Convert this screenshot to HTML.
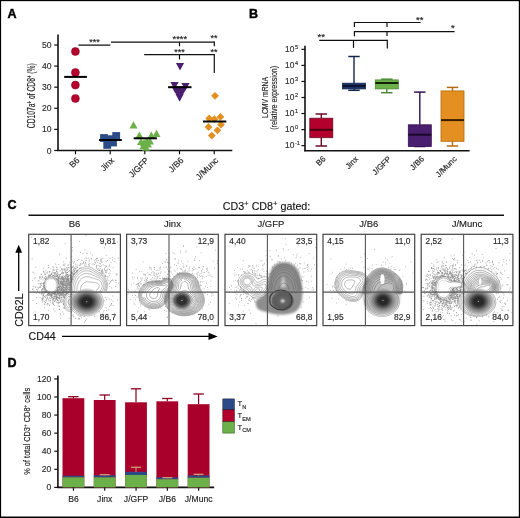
<!DOCTYPE html>
<html><head><meta charset="utf-8"><style>
html,body{margin:0;padding:0;background:#fff;}
svg{display:block;will-change:transform;}
text{font-family:"Liberation Sans",sans-serif;stroke:#222;stroke-width:0.15px;}
text.nb{stroke:none;}
</style></head><body>
<svg width="520" height="518" viewBox="0 0 520 518">
<rect x="0" y="0" width="520" height="518" fill="#fff"/>
<text x="7.60" y="18.30" font-size="12.5" text-anchor="start" fill="#000" font-weight="bold" style="stroke:#000;stroke-width:0.45px">A</text>
<line x1="58.00" y1="34.50" x2="58.00" y2="151.10" stroke="#111" stroke-width="1.6"/>
<line x1="57.20" y1="150.50" x2="232.30" y2="150.50" stroke="#111" stroke-width="1.6"/>
<line x1="54.20" y1="150.50" x2="58.00" y2="150.50" stroke="#111" stroke-width="1.2"/>
<text x="51.60" y="153.50" font-size="8.6" text-anchor="end" fill="#333" font-weight="normal" >0</text>
<line x1="54.20" y1="129.40" x2="58.00" y2="129.40" stroke="#111" stroke-width="1.2"/>
<text x="51.60" y="132.40" font-size="8.6" text-anchor="end" fill="#333" font-weight="normal" >10</text>
<line x1="54.20" y1="108.30" x2="58.00" y2="108.30" stroke="#111" stroke-width="1.2"/>
<text x="51.60" y="111.30" font-size="8.6" text-anchor="end" fill="#333" font-weight="normal" >20</text>
<line x1="54.20" y1="87.20" x2="58.00" y2="87.20" stroke="#111" stroke-width="1.2"/>
<text x="51.60" y="90.20" font-size="8.6" text-anchor="end" fill="#333" font-weight="normal" >30</text>
<line x1="54.20" y1="66.10" x2="58.00" y2="66.10" stroke="#111" stroke-width="1.2"/>
<text x="51.60" y="69.10" font-size="8.6" text-anchor="end" fill="#333" font-weight="normal" >40</text>
<line x1="54.20" y1="45.00" x2="58.00" y2="45.00" stroke="#111" stroke-width="1.2"/>
<text x="51.60" y="48.00" font-size="8.6" text-anchor="end" fill="#333" font-weight="normal" >50</text>
<line x1="75.50" y1="150.50" x2="75.50" y2="154.30" stroke="#111" stroke-width="1.2"/>
<line x1="110.20" y1="150.50" x2="110.20" y2="154.30" stroke="#111" stroke-width="1.2"/>
<line x1="144.80" y1="150.50" x2="144.80" y2="154.30" stroke="#111" stroke-width="1.2"/>
<line x1="179.50" y1="150.50" x2="179.50" y2="154.30" stroke="#111" stroke-width="1.2"/>
<line x1="214.20" y1="150.50" x2="214.20" y2="154.30" stroke="#111" stroke-width="1.2"/>
<text transform="translate(80.10,160.9) rotate(-45)" font-size="8.6" text-anchor="end" fill="#222">B6</text>
<text transform="translate(114.80,160.9) rotate(-45)" font-size="8.6" text-anchor="end" fill="#222">Jinx</text>
<text transform="translate(149.40,160.9) rotate(-45)" font-size="8.6" text-anchor="end" fill="#222">J/GFP</text>
<text transform="translate(184.10,160.9) rotate(-45)" font-size="8.6" text-anchor="end" fill="#222">J/B6</text>
<text transform="translate(218.80,160.9) rotate(-45)" font-size="8.6" text-anchor="end" fill="#222">J/Munc</text>
<text transform="translate(35.1,95.7) rotate(-90)" font-size="10.4" text-anchor="middle" fill="#222" textLength="65" lengthAdjust="spacingAndGlyphs">CD107a<tspan dy="-3.6" font-size="6.5">+</tspan><tspan dy="3.6"> of CD8</tspan><tspan dy="-3.6" font-size="6.5">+</tspan><tspan dy="3.6"> (%)</tspan></text>
<line x1="78.40" y1="45.10" x2="110.30" y2="45.10" stroke="#111" stroke-width="1.2"/>
<text x="94.50" y="44.60" font-size="9" text-anchor="middle" fill="#111" font-weight="normal" >***</text>
<line x1="111.00" y1="42.10" x2="214.30" y2="42.10" stroke="#111" stroke-width="1.2"/>
<line x1="214.30" y1="41.50" x2="214.30" y2="46.30" stroke="#111" stroke-width="1.2"/>
<line x1="179.50" y1="42.10" x2="179.50" y2="46.30" stroke="#111" stroke-width="1.2"/>
<line x1="144.20" y1="54.70" x2="214.30" y2="54.70" stroke="#111" stroke-width="1.2"/>
<line x1="214.30" y1="54.10" x2="214.30" y2="73.00" stroke="#111" stroke-width="1.2"/>
<line x1="179.50" y1="54.70" x2="179.50" y2="59.50" stroke="#111" stroke-width="1.2"/>
<text x="179.80" y="41.70" font-size="9.4" text-anchor="middle" fill="#111" font-weight="normal" >****</text>
<text x="213.90" y="41.20" font-size="9" text-anchor="middle" fill="#111" font-weight="normal" >**</text>
<text x="179.50" y="54.50" font-size="9" text-anchor="middle" fill="#111" font-weight="normal" >***</text>
<text x="213.90" y="54.50" font-size="9" text-anchor="middle" fill="#111" font-weight="normal" >**</text>
<circle cx="75.4" cy="51.5" r="4.0" fill="#b3002d" stroke="#8a0020" stroke-width="0.5"/>
<circle cx="75.4" cy="72.5" r="4.0" fill="#b3002d" stroke="#8a0020" stroke-width="0.5"/>
<circle cx="75.4" cy="85.1" r="4.0" fill="#b3002d" stroke="#8a0020" stroke-width="0.5"/>
<circle cx="75.4" cy="98.5" r="4.0" fill="#b3002d" stroke="#8a0020" stroke-width="0.5"/>
<line x1="64.20" y1="76.90" x2="86.90" y2="76.90" stroke="#000" stroke-width="2.0"/>
<rect x="100.10" y="134.10" width="7.80" height="7.80" fill="#2a4a88" stroke="none" stroke-width="0"/>
<rect x="112.30" y="132.10" width="7.80" height="7.80" fill="#2a4a88" stroke="none" stroke-width="0"/>
<rect x="107.00" y="135.30" width="7.80" height="7.80" fill="#2a4a88" stroke="none" stroke-width="0"/>
<rect x="109.10" y="138.60" width="7.80" height="7.80" fill="#2a4a88" stroke="none" stroke-width="0"/>
<rect x="103.30" y="141.00" width="7.80" height="7.80" fill="#2a4a88" stroke="none" stroke-width="0"/>
<line x1="99.00" y1="140.00" x2="121.80" y2="140.00" stroke="#000" stroke-width="2.0"/>
<path d="M133.50,121.20 L137.50,128.40 L129.50,128.40Z" fill="#6cb04a"/>
<path d="M139.40,131.40 L143.40,138.60 L135.40,138.60Z" fill="#6cb04a"/>
<path d="M156.50,129.70 L160.50,136.90 L152.50,136.90Z" fill="#6cb04a"/>
<path d="M151.30,131.60 L155.30,138.80 L147.30,138.80Z" fill="#6cb04a"/>
<path d="M141.00,137.90 L145.00,145.10 L137.00,145.10Z" fill="#6cb04a"/>
<path d="M146.80,137.20 L150.80,144.40 L142.80,144.40Z" fill="#6cb04a"/>
<path d="M144.00,138.90 L148.00,146.10 L140.00,146.10Z" fill="#6cb04a"/>
<path d="M150.00,137.40 L154.00,144.60 L146.00,144.60Z" fill="#6cb04a"/>
<path d="M143.50,141.90 L147.50,149.10 L139.50,149.10Z" fill="#6cb04a"/>
<path d="M146.00,143.60 L150.00,150.80 L142.00,150.80Z" fill="#6cb04a"/>
<path d="M148.00,140.40 L152.00,147.60 L144.00,147.60Z" fill="#6cb04a"/>
<line x1="133.70" y1="138.30" x2="156.90" y2="138.30" stroke="#000" stroke-width="2.0"/>
<path d="M175.90,63.11 L184.10,63.11 L180.00,70.49Z" fill="#4b1f6f"/>
<path d="M170.40,82.01 L178.60,82.01 L174.50,89.39Z" fill="#4b1f6f"/>
<path d="M181.40,83.11 L189.60,83.11 L185.50,90.49Z" fill="#4b1f6f"/>
<path d="M171.40,86.31 L179.60,86.31 L175.50,93.69Z" fill="#4b1f6f"/>
<path d="M179.40,86.31 L187.60,86.31 L183.50,93.69Z" fill="#4b1f6f"/>
<path d="M175.50,87.31 L183.70,87.31 L179.60,94.69Z" fill="#4b1f6f"/>
<path d="M175.50,90.81 L183.70,90.81 L179.60,98.19Z" fill="#4b1f6f"/>
<path d="M175.50,94.11 L183.70,94.11 L179.60,101.49Z" fill="#4b1f6f"/>
<path d="M172.8,86.6 L186.6,86.6 L179.6,101.6Z" fill="#4b1f6f"/>
<line x1="168.10" y1="87.20" x2="191.50" y2="87.20" stroke="#000" stroke-width="2.0"/>
<path d="M215.00,91.90 L218.90,95.80 L215.00,99.70 L211.10,95.80Z" fill="#e38f22"/>
<path d="M209.20,114.60 L213.10,118.50 L209.20,122.40 L205.30,118.50Z" fill="#e38f22"/>
<path d="M220.40,113.00 L224.30,116.90 L220.40,120.80 L216.50,116.90Z" fill="#e38f22"/>
<path d="M214.40,115.30 L218.30,119.20 L214.40,123.10 L210.50,119.20Z" fill="#e38f22"/>
<path d="M221.00,120.80 L224.90,124.70 L221.00,128.60 L217.10,124.70Z" fill="#e38f22"/>
<path d="M208.50,123.10 L212.40,127.00 L208.50,130.90 L204.60,127.00Z" fill="#e38f22"/>
<path d="M217.40,126.40 L221.30,130.30 L217.40,134.20 L213.50,130.30Z" fill="#e38f22"/>
<path d="M211.80,131.70 L215.70,135.60 L211.80,139.50 L207.90,135.60Z" fill="#e38f22"/>
<line x1="203.00" y1="121.50" x2="226.30" y2="121.50" stroke="#000" stroke-width="2.0"/>
<text x="249.00" y="18.20" font-size="12.5" text-anchor="start" fill="#000" font-weight="bold" style="stroke:#000;stroke-width:0.45px">B</text>
<line x1="305.00" y1="45.80" x2="305.00" y2="151.30" stroke="#111" stroke-width="1.6"/>
<line x1="304.20" y1="150.70" x2="469.60" y2="150.70" stroke="#111" stroke-width="1.6"/>
<line x1="301.40" y1="145.65" x2="305.00" y2="145.65" stroke="#111" stroke-width="1.2"/>
<text x="294.4" y="148.45" font-size="8.4" text-anchor="end" fill="#333">10</text>
<text x="294.9" y="145.05" font-size="5.6" fill="#333">-1</text>
<line x1="301.40" y1="129.60" x2="305.00" y2="129.60" stroke="#111" stroke-width="1.2"/>
<text x="294.4" y="132.40" font-size="8.4" text-anchor="end" fill="#333">10</text>
<text x="294.9" y="129.00" font-size="5.6" fill="#333">0</text>
<line x1="301.40" y1="113.55" x2="305.00" y2="113.55" stroke="#111" stroke-width="1.2"/>
<text x="294.4" y="116.35" font-size="8.4" text-anchor="end" fill="#333">10</text>
<text x="294.9" y="112.95" font-size="5.6" fill="#333">1</text>
<line x1="301.40" y1="97.50" x2="305.00" y2="97.50" stroke="#111" stroke-width="1.2"/>
<text x="294.4" y="100.30" font-size="8.4" text-anchor="end" fill="#333">10</text>
<text x="294.9" y="96.90" font-size="5.6" fill="#333">2</text>
<line x1="301.40" y1="81.45" x2="305.00" y2="81.45" stroke="#111" stroke-width="1.2"/>
<text x="294.4" y="84.25" font-size="8.4" text-anchor="end" fill="#333">10</text>
<text x="294.9" y="80.85" font-size="5.6" fill="#333">3</text>
<line x1="301.40" y1="65.40" x2="305.00" y2="65.40" stroke="#111" stroke-width="1.2"/>
<text x="294.4" y="68.20" font-size="8.4" text-anchor="end" fill="#333">10</text>
<text x="294.9" y="64.80" font-size="5.6" fill="#333">4</text>
<line x1="301.40" y1="49.35" x2="305.00" y2="49.35" stroke="#111" stroke-width="1.2"/>
<text x="294.4" y="52.15" font-size="8.4" text-anchor="end" fill="#333">10</text>
<text x="294.9" y="48.75" font-size="5.6" fill="#333">5</text>
<text transform="translate(267.6,97.4) rotate(-90)" font-size="9.4" text-anchor="middle" fill="#222" textLength="41" lengthAdjust="spacingAndGlyphs">LCMV mRNA</text>
<text transform="translate(277.4,97.8) rotate(-90)" font-size="9.4" text-anchor="middle" fill="#222" textLength="64" lengthAdjust="spacingAndGlyphs">(relative expression)</text>
<line x1="321.30" y1="114.00" x2="321.30" y2="118.20" stroke="#6a0a25" stroke-width="1.4"/>
<line x1="321.30" y1="137.70" x2="321.30" y2="146.00" stroke="#6a0a25" stroke-width="1.4"/>
<line x1="315.60" y1="114.00" x2="327.00" y2="114.00" stroke="#6a0a25" stroke-width="1.5"/>
<line x1="315.60" y1="146.00" x2="327.00" y2="146.00" stroke="#6a0a25" stroke-width="1.5"/>
<rect x="309.80" y="118.20" width="23.00" height="19.50" fill="#b3002d" stroke="#6a0a25" stroke-width="0.8"/>
<line x1="309.80" y1="129.80" x2="332.80" y2="129.80" stroke="#4a0010" stroke-width="2.0"/>
<line x1="354.00" y1="56.50" x2="354.00" y2="83.20" stroke="#13254d" stroke-width="1.4"/>
<line x1="354.00" y1="88.90" x2="354.00" y2="90.30" stroke="#13254d" stroke-width="1.4"/>
<line x1="348.30" y1="56.50" x2="359.70" y2="56.50" stroke="#13254d" stroke-width="1.5"/>
<line x1="348.30" y1="90.30" x2="359.70" y2="90.30" stroke="#13254d" stroke-width="1.5"/>
<rect x="342.50" y="83.20" width="23.00" height="5.70" fill="#1d3266" stroke="#13254d" stroke-width="0.8"/>
<line x1="342.50" y1="86.00" x2="365.50" y2="86.00" stroke="#0b1430" stroke-width="2.0"/>
<line x1="386.80" y1="79.20" x2="386.80" y2="79.90" stroke="#4e8a33" stroke-width="1.4"/>
<line x1="386.80" y1="88.90" x2="386.80" y2="92.70" stroke="#4e8a33" stroke-width="1.4"/>
<line x1="381.10" y1="79.20" x2="392.50" y2="79.20" stroke="#4e8a33" stroke-width="1.5"/>
<line x1="381.10" y1="92.70" x2="392.50" y2="92.70" stroke="#4e8a33" stroke-width="1.5"/>
<rect x="375.30" y="79.90" width="23.00" height="9.00" fill="#6cb04a" stroke="#4e8a33" stroke-width="0.8"/>
<line x1="375.30" y1="83.00" x2="398.30" y2="83.00" stroke="#10200a" stroke-width="2.0"/>
<line x1="419.80" y1="92.10" x2="419.80" y2="124.80" stroke="#351150" stroke-width="1.4"/>
<line x1="419.80" y1="146.50" x2="419.80" y2="146.50" stroke="#351150" stroke-width="1.4"/>
<line x1="414.10" y1="92.10" x2="425.50" y2="92.10" stroke="#351150" stroke-width="1.5"/>
<line x1="414.10" y1="146.50" x2="425.50" y2="146.50" stroke="#351150" stroke-width="1.5"/>
<rect x="408.30" y="124.80" width="23.00" height="21.70" fill="#4b1f6f" stroke="#351150" stroke-width="0.8"/>
<line x1="408.30" y1="134.70" x2="431.30" y2="134.70" stroke="#1a0828" stroke-width="2.0"/>
<line x1="452.50" y1="87.40" x2="452.50" y2="90.90" stroke="#b56c10" stroke-width="1.4"/>
<line x1="452.50" y1="141.30" x2="452.50" y2="146.00" stroke="#b56c10" stroke-width="1.4"/>
<line x1="446.80" y1="87.40" x2="458.20" y2="87.40" stroke="#b56c10" stroke-width="1.5"/>
<line x1="446.80" y1="146.00" x2="458.20" y2="146.00" stroke="#b56c10" stroke-width="1.5"/>
<rect x="441.00" y="90.90" width="23.00" height="50.40" fill="#e38f22" stroke="#b56c10" stroke-width="0.8"/>
<line x1="441.00" y1="120.10" x2="464.00" y2="120.10" stroke="#3a1c00" stroke-width="2.0"/>
<text transform="translate(326.10,159.4) rotate(-45)" font-size="8" text-anchor="end" fill="#222">B6</text>
<text transform="translate(358.80,159.4) rotate(-45)" font-size="8" text-anchor="end" fill="#222">Jinx</text>
<text transform="translate(391.60,159.4) rotate(-45)" font-size="8" text-anchor="end" fill="#222">J/GFP</text>
<text transform="translate(424.60,159.4) rotate(-45)" font-size="8" text-anchor="end" fill="#222">J/B6</text>
<text transform="translate(457.30,159.4) rotate(-45)" font-size="8" text-anchor="end" fill="#222">J/Munc</text>
<line x1="319.20" y1="40.40" x2="387.30" y2="40.40" stroke="#111" stroke-width="1.2"/>
<line x1="387.30" y1="39.80" x2="387.30" y2="48.40" stroke="#111" stroke-width="1.2"/>
<line x1="353.50" y1="40.40" x2="353.50" y2="47.90" stroke="#111" stroke-width="1.2"/>
<text x="321.20" y="40.30" font-size="9.5" text-anchor="middle" fill="#111" font-weight="normal" >**</text>
<line x1="354.40" y1="31.70" x2="454.60" y2="31.70" stroke="#111" stroke-width="1.2"/>
<line x1="354.40" y1="31.10" x2="354.40" y2="36.30" stroke="#111" stroke-width="1.2"/>
<line x1="387.00" y1="31.70" x2="387.00" y2="36.00" stroke="#111" stroke-width="1.2"/>
<text x="452.90" y="31.40" font-size="9.5" text-anchor="middle" fill="#111" font-weight="normal" >*</text>
<line x1="354.40" y1="22.50" x2="420.60" y2="22.50" stroke="#111" stroke-width="1.2"/>
<line x1="354.40" y1="21.90" x2="354.40" y2="27.10" stroke="#111" stroke-width="1.2"/>
<line x1="387.00" y1="22.50" x2="387.00" y2="27.00" stroke="#111" stroke-width="1.2"/>
<text x="419.80" y="23.10" font-size="9.5" text-anchor="middle" fill="#111" font-weight="normal" >**</text>
<text x="7.60" y="208.50" font-size="12.5" text-anchor="start" fill="#000" font-weight="bold" style="stroke:#000;stroke-width:0.45px">C</text>
<text x="266.5" y="210.0" font-size="10.7" text-anchor="middle" fill="#111">CD3<tspan dy="-3.8" font-size="7.8">+</tspan><tspan dy="3.8"> CD8</tspan><tspan dy="-3.8" font-size="7.8">+</tspan><tspan dy="3.8"> gated:</tspan></text>
<line x1="28.50" y1="215.20" x2="504.00" y2="215.20" stroke="#111" stroke-width="1.4"/>
<text x="74.55" y="227.10" font-size="9.5" text-anchor="middle" fill="#222" font-weight="normal" >B6</text>
<path d="M58.6 293.9h0.8M58.5 276.9h0.8M63.4 290.9h0.8M58.8 289.7h0.8M55.9 291.7h0.8M32.7 272.2h0.8M57.5 289.0h0.8M52.5 303.6h0.8M61.2 292.6h0.8M51.3 274.1h0.8M60.7 294.4h0.8M58.4 280.8h0.8M61.9 283.3h0.8M63.2 278.7h0.8M63.5 287.1h0.8M57.7 293.4h0.8M41.7 289.3h0.8M66.1 284.9h0.8M48.8 293.3h0.8M57.9 294.5h0.8M52.8 275.4h0.8M62.3 288.8h0.8M41.8 277.7h0.8M63.2 292.7h0.8M59.5 291.0h0.8M63.1 289.4h0.8M64.7 269.3h0.8M43.6 290.0h0.8M50.2 294.2h0.8M54.6 292.7h0.8M66.1 290.4h0.8M48.3 275.2h0.8M54.1 294.1h0.8M46.9 292.6h0.8M68.7 275.1h0.8M34.7 292.2h0.8M45.1 292.0h0.8M55.8 278.3h0.8M46.4 299.0h0.8M60.0 283.9h0.8M58.1 278.0h0.8M62.8 282.6h0.8M52.4 300.3h0.8M37.5 287.3h0.8M63.3 285.4h0.8M61.7 292.6h0.8M41.5 293.9h0.8M61.1 297.8h0.8M59.9 288.6h0.8M47.8 310.3h0.8M63.2 278.2h0.8M42.5 288.6h0.8M51.8 297.1h0.8M63.9 265.6h0.8M56.1 274.4h0.8M65.1 288.6h0.8M60.4 278.8h0.8M44.9 302.2h0.8M60.0 282.1h0.8M54.6 277.9h0.8M53.2 293.3h0.8M45.0 291.5h0.8M58.8 290.5h0.8M52.3 271.1h0.8M59.3 289.4h0.8M43.7 293.5h0.8M57.4 274.5h0.8M42.6 292.3h0.8M57.8 281.3h0.8M61.5 283.5h0.8M59.5 285.5h0.8M40.7 279.1h0.8M56.0 276.4h0.8M63.3 280.0h0.8M34.8 312.1h0.8M63.0 287.0h0.8M40.6 292.3h0.8M63.0 283.7h0.8M43.9 285.5h0.8M48.3 295.3h0.8M56.9 293.6h0.8M67.9 287.3h0.8M58.5 294.9h0.8M53.1 298.8h0.8M43.8 287.0h0.8M41.5 298.4h0.8M51.3 294.8h0.8M65.4 287.4h0.8M59.7 276.6h0.8M61.1 287.1h0.8M59.8 300.1h0.8M36.3 289.4h0.8M46.4 292.0h0.8M57.4 292.2h0.8M51.0 294.4h0.8M55.7 273.8h0.8M62.9 290.6h0.8M63.1 284.6h0.8M62.7 278.8h0.8M60.5 283.4h0.8M61.4 295.3h0.8M56.0 296.8h0.8M61.7 277.5h0.8M59.6 293.3h0.8M73.8 273.9h0.8M51.1 298.0h0.8M44.2 277.7h0.8M60.1 295.4h0.8M56.7 299.4h0.8M55.7 295.2h0.8M54.9 296.4h0.8M60.6 281.3h0.8M61.5 293.5h0.8M54.1 273.7h0.8M57.3 289.2h0.8M48.3 293.2h0.8M51.7 303.2h0.8M42.1 291.8h0.8M63.7 290.3h0.8M65.7 279.3h0.8M36.3 293.4h0.8M45.7 295.7h0.8M63.1 281.5h0.8M63.4 288.3h0.8M58.3 284.5h0.8M64.3 282.4h0.8M58.1 290.7h0.8M68.3 283.3h0.8M60.7 287.7h0.8M46.3 278.3h0.8M63.1 290.2h0.8M63.2 304.3h0.8M63.5 285.1h0.8M57.4 302.0h0.8M56.1 298.2h0.8M59.4 280.2h0.8M55.6 275.1h0.8M57.9 292.3h0.8M57.1 289.6h0.8M60.7 282.0h0.8M64.2 290.5h0.8M64.2 297.4h0.8M65.1 289.5h0.8M60.5 270.2h0.8M44.1 304.7h0.8M43.9 278.7h0.8M45.5 296.2h0.8M48.2 292.6h0.8M60.7 289.4h0.8M69.9 277.0h0.8M62.6 289.3h0.8M62.0 278.8h0.8M63.7 291.9h0.8M42.1 299.6h0.8M56.2 298.5h0.8M43.1 271.4h0.8M58.0 277.3h0.8M60.5 302.3h0.8M55.9 295.2h0.8M47.5 293.3h0.8M55.0 296.3h0.8M59.7 278.6h0.8M56.8 297.0h0.8M49.2 275.3h0.8M63.9 297.8h0.8M62.5 289.2h0.8M49.5 294.5h0.8M64.6 294.8h0.8M54.3 301.6h0.8M57.2 272.2h0.8M59.1 302.4h0.8M61.5 294.3h0.8M56.0 271.5h0.8M40.3 277.3h0.8M61.6 284.6h0.8M63.8 285.1h0.8M49.7 294.1h0.8M47.9 265.5h0.8M52.9 275.9h0.8M43.1 283.6h0.8M51.0 297.4h0.8M58.9 274.7h0.8M48.4 292.9h0.8M58.3 302.2h0.8M43.7 283.2h0.8M55.8 276.0h0.8M56.8 294.4h0.8M53.6 293.1h0.8M61.8 290.9h0.8M52.9 309.1h0.8M52.9 300.8h0.8M39.7 283.7h0.8M63.8 280.0h0.8M61.3 288.4h0.8M59.1 292.1h0.8M56.0 296.2h0.8M49.5 275.8h0.8M40.6 274.3h0.8M51.0 295.5h0.8M43.5 283.5h0.8M64.3 269.9h0.8M53.7 270.3h0.8M38.0 288.1h0.8M65.6 286.7h0.8M37.4 291.2h0.8M52.1 275.6h0.8M62.4 289.6h0.8M51.2 294.2h0.8M46.3 299.2h0.8M57.9 298.8h0.8M62.8 265.4h0.8M46.6 295.6h0.8M59.7 295.1h0.8M49.5 276.3h0.8M41.3 282.9h0.8M36.1 303.5h0.8M46.3 300.8h0.8M69.0 289.5h0.8M55.7 291.6h0.8M52.4 295.6h0.8M64.0 294.7h0.8M66.5 287.1h0.8M58.0 282.7h0.8M45.9 290.9h0.8M58.0 278.4h0.8M60.7 273.4h0.8M63.8 291.8h0.8M65.8 288.3h0.8M45.6 290.9h0.8M65.9 289.8h0.8M57.3 275.6h0.8M57.0 280.6h0.8M48.6 293.4h0.8M57.4 300.6h0.8M47.1 272.9h0.8M63.5 294.8h0.8M49.2 275.4h0.8M55.1 273.1h0.8M52.6 269.6h0.8M53.4 270.1h0.8M53.4 299.2h0.8M53.1 293.2h0.8M42.7 295.3h0.8M54.9 300.0h0.8M56.0 298.2h0.8M70.8 281.7h0.8M45.7 273.0h0.8M66.7 286.2h0.8M33.5 273.1h0.8M63.2 290.1h0.8M56.5 278.9h0.8M60.3 301.1h0.8M54.7 292.1h0.8M64.4 285.1h0.8M53.0 293.8h0.8M57.6 287.6h0.8M57.1 277.0h0.8M59.2 297.5h0.8M60.2 274.5h0.8M57.7 279.7h0.8M45.2 297.6h0.8M54.8 293.3h0.8M60.7 297.7h0.8M65.5 275.2h0.8M55.7 269.9h0.8M63.2 297.3h0.8M56.2 297.2h0.8M68.9 284.2h0.8M61.9 291.4h0.8M49.9 298.9h0.8M55.9 299.4h0.8M67.3 276.9h0.8M57.6 287.6h0.8M57.8 280.6h0.8M59.2 298.4h0.8M53.9 301.3h0.8M49.1 305.1h0.8M58.6 282.6h0.8M56.1 270.0h0.8M61.9 278.7h0.8M46.0 292.1h0.8M48.3 293.9h0.8M65.1 272.9h0.8M54.4 274.6h0.8M55.1 294.5h0.8M44.0 301.6h0.8M54.5 293.5h0.8M43.9 287.2h0.8M43.9 296.8h0.8M64.3 276.8h0.8M52.2 301.9h0.8M54.5 298.0h0.8M48.9 275.3h0.8M56.5 290.3h0.8M61.9 272.7h0.8M62.4 287.0h0.8M43.4 287.9h0.8M62.4 291.3h0.8M61.7 294.7h0.8M63.1 286.8h0.8M37.8 281.1h0.8M58.5 283.4h0.8M61.3 293.5h0.8M55.9 302.2h0.8M47.2 294.6h0.8M60.5 282.2h0.8M62.8 277.8h0.8M45.9 292.4h0.8M45.0 279.3h0.8M63.1 294.9h0.8M61.2 289.9h0.8M63.2 289.5h0.8M65.0 294.9h0.8M47.1 304.9h0.8M63.8 291.9h0.8M35.1 286.7h0.8M57.4 294.0h0.8M55.5 293.6h0.8M33.8 278.4h0.8M70.2 277.4h0.8M48.1 293.0h0.8M43.4 271.9h0.8M44.3 274.0h0.8M58.4 278.9h0.8M56.3 294.5h0.8M61.2 294.7h0.8M59.7 293.1h0.8M67.7 276.4h0.8M53.0 267.9h0.8M54.8 264.1h0.8M58.1 291.5h0.8M60.7 277.6h0.8M63.7 280.3h0.8M45.2 279.4h0.8M62.6 270.4h0.8M51.0 294.5h0.8M57.4 291.3h0.8M42.9 294.9h0.8M42.4 288.8h0.8M60.0 294.3h0.8M65.6 287.3h0.8M54.6 276.0h0.8M57.0 292.5h0.8M69.1 288.7h0.8M67.3 282.4h0.8M71.0 279.9h0.8M52.7 294.0h0.8M41.1 285.3h0.8M62.0 282.8h0.8M61.9 285.5h0.8M68.6 280.0h0.8M66.6 280.4h0.8M52.3 297.7h0.8M59.5 288.1h0.8M63.8 282.9h0.8M58.9 292.4h0.8M58.1 287.1h0.8M49.8 294.5h0.8M56.9 291.3h0.8M62.2 288.0h0.8M63.0 289.8h0.8M67.3 285.8h0.8M41.8 290.8h0.8M61.2 289.4h0.8M59.5 284.6h0.8M57.4 289.3h0.8M70.8 281.8h0.8M41.0 274.5h0.8M74.1 273.2h0.8M60.6 280.5h0.8M49.2 271.4h0.8M48.0 293.6h0.8M43.9 292.1h0.8M58.4 303.4h0.8M51.7 297.4h0.8M63.3 285.0h0.8M41.6 299.4h0.8M63.2 296.2h0.8M53.5 296.8h0.8M63.5 264.4h0.8M55.8 278.4h0.8M45.3 274.3h0.8M49.3 295.7h0.8M56.9 276.0h0.8M46.0 291.4h0.8M58.4 282.6h0.8M60.8 287.8h0.8M61.2 302.3h0.8M53.5 293.9h0.8M59.5 299.1h0.8M60.1 282.9h0.8M59.1 306.5h0.8M69.9 277.9h0.8M58.7 276.7h0.8M41.6 293.2h0.8M60.4 279.0h0.8M69.7 279.5h0.8M45.8 292.5h0.8M39.6 276.6h0.8M60.9 281.7h0.8M60.3 297.2h0.8M62.1 286.4h0.8M59.8 291.0h0.8M54.2 294.1h0.8M50.6 296.2h0.8M57.2 297.3h0.8M61.8 284.9h0.8M70.5 278.8h0.8M44.6 291.8h0.8M43.3 268.3h0.8M63.2 293.4h0.8M61.9 283.4h0.8M57.3 279.6h0.8M62.0 271.7h0.8M62.6 299.3h0.8M66.0 293.6h0.8M60.8 290.4h0.8M70.0 278.0h0.8M66.3 293.3h0.8M43.8 303.9h0.8M60.1 286.4h0.8M59.3 289.8h0.8M52.6 266.7h0.8M60.2 286.1h0.8M59.6 295.5h0.8M51.7 299.0h0.8M39.1 277.2h0.8M48.0 267.7h0.8M47.2 297.3h0.8M66.3 288.1h0.8M54.5 293.2h0.8M42.9 295.3h0.8M51.8 294.1h0.8M42.6 283.9h0.8M56.4 294.5h0.8M45.4 300.6h0.8M59.8 283.1h0.8M66.0 288.1h0.8M62.2 283.1h0.8M58.1 280.6h0.8M75.6 266.3h0.8M61.9 285.6h0.8M62.3 294.2h0.8M56.1 279.2h0.8M43.8 272.3h0.8M66.1 285.6h0.8M44.3 289.7h0.8M42.4 298.2h0.8M49.2 272.0h0.8M45.2 279.6h0.8M55.6 279.0h0.8M42.9 285.2h0.8M59.6 287.9h0.8M65.0 277.0h0.8M39.6 297.7h0.8M59.0 294.1h0.8M46.7 292.0h0.8M55.3 291.7h0.8M60.3 300.8h0.8M57.5 293.3h0.8M45.5 278.7h0.8M61.6 276.6h0.8M56.3 267.6h0.8M53.5 273.0h0.8M56.6 295.1h0.8M61.2 282.0h0.8M61.1 298.8h0.8M51.2 273.7h0.8M57.4 293.0h0.8M32.6 288.4h0.8M60.4 290.5h0.8M64.7 279.8h0.8M39.4 293.4h0.8M62.9 287.6h0.8M57.1 300.3h0.8M50.2 275.7h0.8M42.5 297.0h0.8M62.1 291.8h0.8M46.5 277.3h0.8M67.6 280.0h0.8M38.5 280.6h0.8M59.0 297.4h0.8M67.2 278.0h0.8M65.9 285.9h0.8M60.7 293.0h0.8M51.8 293.5h0.8M64.8 286.0h0.8M42.6 279.8h0.8M58.5 277.8h0.8M50.2 300.4h0.8M65.3 281.8h0.8M60.8 282.1h0.8M69.5 282.6h0.8M56.4 298.4h0.8M48.7 297.7h0.8M47.1 294.2h0.8M61.8 297.6h0.8M67.5 276.5h0.8M51.2 295.6h0.8M68.2 283.0h0.8M56.5 266.8h0.8M58.8 298.6h0.8M65.0 277.2h0.8M45.1 276.2h0.8M62.8 291.3h0.8M66.3 278.9h0.8M44.2 307.7h0.8M63.7 281.6h0.8M55.2 292.7h0.8M34.9 287.5h0.8M57.9 291.1h0.8M57.5 273.1h0.8M37.0 291.1h0.8M47.6 295.3h0.8M61.4 278.2h0.8M61.3 283.0h0.8M63.5 294.2h0.8M45.5 304.0h0.8M65.6 280.8h0.8M41.6 283.7h0.8M66.7 279.2h0.8M58.7 283.2h0.8M58.3 300.7h0.8M51.2 274.5h0.8M44.9 274.7h0.8M65.5 292.9h0.8M59.6 283.9h0.8M58.9 286.4h0.8M39.3 278.4h0.8M48.7 300.9h0.8M68.1 290.0h0.8M65.3 291.9h0.8M62.3 293.0h0.8M57.0 292.9h0.8M66.3 267.9h0.8M46.9 294.1h0.8M41.8 276.7h0.8M45.3 270.7h0.8M43.4 282.6h0.8M51.6 294.9h0.8M54.7 276.9h0.8M51.5 272.4h0.8M57.7 293.5h0.8M39.6 286.9h0.8M58.2 297.3h0.8M65.9 282.5h0.8M55.3 299.8h0.8M56.8 276.3h0.8M54.1 296.6h0.8M66.6 282.1h0.8M54.2 293.6h0.8M71.3 280.3h0.8M61.7 291.0h0.8M41.1 292.7h0.8M54.5 301.0h0.8M61.1 278.4h0.8M44.0 296.5h0.8M48.3 292.8h0.8M53.1 304.1h0.8M56.4 299.4h0.8M67.0 283.6h0.8M52.9 299.2h0.8M55.5 298.6h0.8M54.5 298.3h0.8M53.9 298.2h0.8M60.6 286.1h0.8M58.0 283.3h0.8M59.9 292.0h0.8M60.2 283.8h0.8M67.5 281.4h0.8M50.9 296.0h0.8M50.9 295.2h0.8M40.9 294.1h0.8M60.4 292.2h0.8M42.5 293.9h0.8M47.0 298.2h0.8M53.0 275.6h0.8M65.2 294.8h0.8M53.0 298.7h0.8M62.1 277.5h0.8M61.2 287.2h0.8M55.4 272.5h0.8M57.6 279.6h0.8M57.1 276.0h0.8M64.1 289.7h0.8M44.7 289.7h0.8M49.8 302.2h0.8M60.4 281.4h0.8M58.1 287.5h0.8M66.4 290.7h0.8M60.6 278.9h0.8M63.0 304.6h0.8M61.7 287.5h0.8M57.7 280.2h0.8M57.9 279.1h0.8M43.6 287.5h0.8M45.0 302.5h0.8M60.9 284.4h0.8M62.5 286.8h0.8M43.0 286.1h0.8M46.9 297.4h0.8M61.8 292.6h0.8M70.0 278.4h0.8M59.2 288.0h0.8M32.7 300.5h0.8M51.7 276.3h0.8M60.8 276.5h0.8M59.4 284.5h0.8M61.1 294.0h0.8M67.1 283.7h0.8M44.0 292.4h0.8M57.1 276.9h0.8M44.8 292.2h0.8M47.7 276.4h0.8M60.5 283.1h0.8M54.6 311.3h0.8M54.9 293.4h0.8M58.4 289.3h0.8M55.5 294.0h0.8M62.4 279.3h0.8M56.9 299.9h0.8M66.4 285.2h0.8M67.0 288.8h0.8M55.7 275.8h0.8M66.2 291.8h0.8M59.3 286.5h0.8M63.9 289.6h0.8M56.5 290.7h0.8M61.3 290.8h0.8M62.8 289.8h0.8M45.1 278.3h0.8M42.2 302.0h0.8M42.8 286.4h0.8M67.2 283.6h0.8M62.3 311.9h0.8M59.2 298.7h0.8M48.3 276.2h0.8M65.5 289.9h0.8M53.0 272.7h0.8M67.3 277.3h0.8M43.7 291.8h0.8M59.8 275.2h0.8M57.7 287.6h0.8M48.4 293.9h0.8M64.2 278.6h0.8M60.5 286.2h0.8M56.4 271.5h0.8M44.0 288.9h0.8M58.2 282.6h0.8M54.4 292.8h0.8M64.8 281.3h0.8M58.7 295.7h0.8M47.0 303.5h0.8M57.3 292.4h0.8M52.5 276.9h0.8M69.6 286.7h0.8M66.4 293.5h0.8M65.7 293.9h0.8M57.0 289.3h0.8M49.4 271.8h0.8M65.7 282.9h0.8M73.2 273.7h0.8M57.4 302.6h0.8M64.2 297.1h0.8M59.3 286.1h0.8M49.9 275.2h0.8M62.2 273.8h0.8M44.1 289.1h0.8M57.0 273.6h0.8M64.5 293.6h0.8M57.5 278.2h0.8M49.2 294.6h0.8M49.7 295.5h0.8M66.5 278.8h0.8M59.4 286.4h0.8M58.3 280.0h0.8M39.9 284.4h0.8M54.2 275.8h0.8M44.7 290.2h0.8M64.8 285.0h0.8M64.8 272.3h0.8M57.0 290.5h0.8M63.8 290.5h0.8M42.7 288.8h0.8M57.3 291.4h0.8M68.7 288.8h0.8M43.3 293.7h0.8M66.2 283.7h0.8M39.3 292.6h0.8M32.9 291.0h0.8M32.3 280.4h0.8M63.2 272.7h0.8M39.9 283.7h0.8M50.5 295.3h0.8M60.6 289.4h0.8M58.7 281.5h0.8M62.5 295.8h0.8M34.8 277.6h0.8M58.5 287.8h0.8M39.9 286.1h0.8M54.6 294.6h0.8M68.1 292.7h0.8M47.8 294.9h0.8M62.9 294.9h0.8M56.5 290.7h0.8M62.1 301.9h0.8M68.9 292.3h0.8M53.4 296.5h0.8M32.2 289.4h0.8M38.8 287.3h0.8M67.0 280.0h0.8M36.3 297.7h0.8M68.5 291.3h0.8M66.4 280.9h0.8M61.1 289.5h0.8M49.3 298.2h0.8M62.0 288.6h0.8M62.0 283.2h0.8M62.8 278.4h0.8M54.6 273.8h0.8M41.2 290.8h0.8M60.7 290.1h0.8M57.7 303.8h0.8M43.3 300.0h0.8M43.0 291.7h0.8M57.0 293.2h0.8M58.2 286.2h0.8M65.7 274.9h0.8M51.7 274.1h0.8M50.2 300.7h0.8M57.3 290.4h0.8M48.2 299.6h0.8M41.2 289.7h0.8M42.4 277.4h0.8M64.0 281.8h0.8M63.2 292.7h0.8M60.6 293.4h0.8M61.5 277.2h0.8M69.8 282.8h0.8M58.8 281.4h0.8M65.8 274.2h0.8M59.5 289.2h0.8M59.4 279.1h0.8M64.5 295.0h0.8M57.1 289.8h0.8M59.2 276.0h0.8M33.4 286.4h0.8M54.3 297.0h0.8M54.7 295.8h0.8M56.5 278.9h0.8M58.5 278.5h0.8M42.3 291.3h0.8M51.0 296.2h0.8M58.3 280.8h0.8M57.6 297.7h0.8M45.7 277.0h0.8M59.3 296.2h0.8M52.6 293.6h0.8M63.4 300.8h0.8M59.3 288.1h0.8M58.3 297.7h0.8M58.9 293.7h0.8M43.0 295.3h0.8M36.8 289.3h0.8M61.7 282.1h0.8M63.3 261.9h0.8M47.4 271.8h0.8M57.3 297.7h0.8M65.8 292.6h0.8M57.8 281.2h0.8M66.1 292.3h0.8M48.5 277.1h0.8M50.4 296.0h0.8M67.5 289.1h0.8M62.2 276.7h0.8M41.8 300.3h0.8M57.0 275.7h0.8M64.9 287.9h0.8M61.9 285.8h0.8M58.7 293.6h0.8M60.0 292.6h0.8M66.1 289.7h0.8M64.4 296.3h0.8M58.4 286.9h0.8M42.7 298.1h0.8M56.5 295.7h0.8M53.8 293.3h0.8M66.2 286.8h0.8M52.6 302.8h0.8M53.7 277.3h0.8M57.5 306.2h0.8M61.7 295.7h0.8M38.1 283.7h0.8M66.9 285.0h0.8M67.9 292.1h0.8M60.1 301.7h0.8M57.7 290.1h0.8M42.4 298.2h0.8M58.8 287.0h0.8M62.1 285.2h0.8M67.1 288.9h0.8M63.0 281.3h0.8M56.4 297.3h0.8M63.3 295.6h0.8M59.4 295.5h0.8M69.9 289.7h0.8M60.5 293.0h0.8M39.8 287.5h0.8M60.3 294.3h0.8M54.0 296.1h0.8M71.0 277.4h0.8M62.1 279.6h0.8M45.3 291.9h0.8M46.4 291.1h0.8M60.2 282.9h0.8M54.6 276.5h0.8M54.0 272.6h0.8M68.3 292.4h0.8M70.4 275.6h0.8M56.8 293.6h0.8M70.9 269.0h0.8M72.1 291.9h0.8M65.5 290.9h0.8M60.3 282.8h0.8M69.1 290.8h0.8M71.6 279.3h0.8M67.6 289.2h0.8M64.9 275.7h0.8M70.1 280.2h0.8M61.9 283.7h0.8M69.9 285.3h0.8M62.8 279.9h0.8M70.5 280.4h0.8M59.1 286.9h0.8M61.8 284.2h0.8M64.4 271.0h0.8M65.1 285.1h0.8M67.0 292.1h0.8M70.9 281.5h0.8M71.0 278.1h0.8M70.8 272.6h0.8M71.0 276.9h0.8M69.6 282.1h0.8M69.9 287.2h0.8M68.4 283.9h0.8M61.3 269.1h0.8M61.3 299.6h0.8M65.1 288.4h0.8M71.7 273.3h0.8M68.5 282.3h0.8M69.1 282.1h0.8M65.5 278.5h0.8M68.2 287.7h0.8M71.4 280.0h0.8M63.3 281.9h0.8M61.7 284.4h0.8M68.0 278.6h0.8M62.0 283.7h0.8M71.2 281.1h0.8M69.5 289.8h0.8M71.8 279.3h0.8M59.3 278.1h0.8M63.2 297.1h0.8M66.0 287.6h0.8M66.8 293.4h0.8M67.2 272.5h0.8M71.3 276.2h0.8M68.2 284.2h0.8M64.8 291.4h0.8M61.6 296.2h0.8M65.8 292.0h0.8M65.0 291.8h0.8M69.6 285.0h0.8M59.6 271.2h0.8M65.2 277.4h0.8M69.7 288.0h0.8M59.0 295.9h0.8M58.8 287.3h0.8M66.2 275.7h0.8M65.8 289.4h0.8M63.4 279.4h0.8M67.5 281.5h0.8M71.9 274.7h0.8M67.6 274.9h0.8M65.1 285.1h0.8M63.5 284.3h0.8M68.4 284.4h0.8M66.6 276.4h0.8M66.2 284.9h0.8M68.7 280.2h0.8M61.9 285.5h0.8M67.9 282.1h0.8M73.6 273.9h0.8M64.0 285.6h0.8M72.3 266.9h0.8M71.2 292.3h0.8M62.2 284.8h0.8M63.7 279.3h0.8M72.0 278.0h0.8M63.6 277.8h0.8M67.1 291.1h0.8M72.1 276.7h0.8M58.6 275.0h0.8M67.3 276.5h0.8M70.0 269.9h0.8M68.6 279.3h0.8M72.9 266.0h0.8M64.5 289.0h0.8M70.9 278.4h0.8M71.7 279.6h0.8M65.9 290.2h0.8M69.4 278.6h0.8M64.5 289.7h0.8M72.3 261.7h0.8M62.1 290.0h0.8M67.3 284.7h0.8M67.9 278.6h0.8M67.7 277.2h0.8M66.3 286.8h0.8M68.1 280.2h0.8M70.5 277.4h0.8M72.7 291.2h0.8M66.0 281.2h0.8M66.5 279.6h0.8M70.1 276.9h0.8M62.8 285.5h0.8M61.2 284.0h0.8M71.2 277.9h0.8M71.3 272.8h0.8M69.8 283.6h0.8M67.1 280.1h0.8M62.9 290.6h0.8M61.7 278.3h0.8M73.4 269.3h0.8M68.8 281.7h0.8M64.1 284.8h0.8M55.7 297.8h0.8M66.4 292.7h0.8M68.1 279.7h0.8M67.8 275.8h0.8M65.5 270.8h0.8M64.1 276.4h0.8M70.4 277.8h0.8M69.4 286.1h0.8M71.8 272.6h0.8M66.7 283.6h0.8M66.7 272.3h0.8M63.3 287.3h0.8M61.2 268.8h0.8M66.7 274.6h0.8M71.3 273.0h0.8M71.4 279.7h0.8M65.4 278.8h0.8M76.0 271.8h0.8M61.2 289.3h0.8M63.7 280.5h0.8M65.3 278.4h0.8M66.7 286.1h0.8M71.2 272.5h0.8M59.7 288.9h0.8M67.7 265.4h0.8M70.1 292.4h0.8M72.5 272.4h0.8M67.3 283.8h0.8M62.1 281.5h0.8M62.1 279.4h0.8M71.5 277.6h0.8M65.6 295.0h0.8M66.7 267.8h0.8M68.7 275.6h0.8M69.6 271.6h0.8M64.5 284.0h0.8M64.5 287.4h0.8M67.8 278.8h0.8M73.9 291.5h0.8M64.0 287.6h0.8M67.5 285.8h0.8M72.3 267.4h0.8M67.5 280.3h0.8M69.0 287.2h0.8M69.9 283.8h0.8M67.2 279.5h0.8M65.3 285.7h0.8M62.9 291.9h0.8M64.7 290.5h0.8M72.5 273.7h0.8M65.8 276.8h0.8M68.6 281.2h0.8M64.7 264.0h0.8M69.4 275.0h0.8M61.7 272.5h0.8M65.5 282.8h0.8M62.7 284.3h0.8M62.5 276.4h0.8M69.1 287.7h0.8M62.3 293.5h0.8M64.1 292.0h0.8M68.5 291.6h0.8M71.1 273.6h0.8M62.2 281.5h0.8M68.9 284.3h0.8M63.5 284.8h0.8M68.0 291.3h0.8M62.6 285.8h0.8M72.5 275.4h0.8M62.9 280.3h0.8M68.7 283.1h0.8M65.7 285.3h0.8M61.6 279.6h0.8M65.7 281.8h0.8M67.1 284.2h0.8M66.9 280.8h0.8M70.4 291.4h0.8M73.4 274.9h0.8M69.8 290.1h0.8M67.3 287.9h0.8M67.5 287.2h0.8M61.0 287.8h0.8M66.2 278.2h0.8M67.1 292.0h0.8M62.4 269.2h0.8M68.4 282.9h0.8M68.8 284.6h0.8M58.4 277.3h0.8M66.8 283.4h0.8M69.5 282.2h0.8M67.1 278.6h0.8M64.8 284.0h0.8M66.5 290.1h0.8M67.6 278.7h0.8M64.4 281.1h0.8M109.4 265.9h0.8M102.4 271.6h0.8M105.9 261.7h0.8M99.5 270.5h0.8M97.3 262.3h0.8M67.7 280.7h0.8M73.3 271.4h0.8M107.2 269.3h0.8M112.6 296.0h0.8M115.9 275.1h0.8M115.1 286.7h0.8M71.5 256.4h0.8M61.9 279.8h0.8M75.5 268.4h0.8M66.7 270.2h0.8M108.4 266.8h0.8M63.4 273.8h0.8M76.8 267.5h0.8M63.0 273.1h0.8M93.9 260.7h0.8M71.9 250.8h0.8M105.2 276.7h0.8M70.4 276.2h0.8M99.5 272.4h0.8M88.7 265.7h0.8M82.5 253.6h0.8M92.8 264.1h0.8M84.8 263.4h0.8M66.6 275.0h0.8M99.9 266.5h0.8M67.5 269.4h0.8M57.3 269.1h0.8M107.7 276.8h0.8M60.9 280.7h0.8M69.4 280.8h0.8M87.9 258.1h0.8M110.2 271.0h0.8M75.5 269.1h0.8M74.1 261.7h0.8M96.2 266.2h0.8M100.6 259.4h0.8M68.6 267.7h0.8M100.8 272.4h0.8M85.9 260.1h0.8M107.1 260.5h0.8M99.9 268.4h0.8M105.6 270.2h0.8M97.8 260.4h0.8M83.1 261.7h0.8M62.7 275.9h0.8M83.0 262.5h0.8M66.0 273.0h0.8M65.8 258.3h0.8M76.7 270.3h0.8M72.7 267.6h0.8M101.6 262.4h0.8M117.0 274.3h0.8M65.5 294.3h0.8M70.2 274.7h0.8M102.8 273.1h0.8M105.0 272.6h0.8M95.3 259.6h0.8M102.3 275.0h0.8M62.4 269.2h0.8M74.6 270.4h0.8M100.3 263.7h0.8M68.6 291.1h0.8M104.1 247.8h0.8M117.8 258.1h0.8M73.4 276.5h0.8M68.8 285.1h0.8M76.5 270.4h0.8M104.6 270.5h0.8M76.3 272.0h0.8M101.2 271.5h0.8M49.8 274.6h0.8M74.2 271.3h0.8M85.3 260.8h0.8M99.1 270.0h0.8M99.2 291.8h0.8M75.3 264.2h0.8M102.2 270.1h0.8M91.9 264.0h0.8M100.5 291.4h0.8M74.1 271.8h0.8M67.4 269.0h0.8M78.4 259.6h0.8M60.7 278.9h0.8M66.2 286.0h0.8M101.2 265.8h0.8M67.9 264.9h0.8M90.7 259.0h0.8M66.5 272.3h0.8M97.2 258.5h0.8M84.5 249.9h0.8M101.8 273.2h0.8M68.2 271.6h0.8M114.6 258.7h0.8M63.8 268.5h0.8M73.0 263.1h0.8M81.6 263.9h0.8M106.1 266.4h0.8M101.6 270.7h0.8M104.5 275.0h0.8M108.7 269.1h0.8M82.7 263.5h0.8M65.3 271.8h0.8M84.4 265.0h0.8M108.3 273.7h0.8M102.1 273.0h0.8M96.5 265.4h0.8M70.1 274.3h0.8M88.8 260.1h0.8M66.3 279.9h0.8M64.5 287.9h0.8M98.5 265.3h0.8M59.1 254.3h0.8M107.7 284.0h0.8M105.0 271.1h0.8M71.8 270.4h0.8M105.6 276.2h0.8M57.8 264.5h0.8M69.6 262.3h0.8M102.4 271.9h0.8M96.3 258.9h0.8M111.9 257.6h0.8M76.8 271.4h0.8M110.1 281.6h0.8M111.0 280.6h0.8M79.7 264.8h0.8M76.9 260.5h0.8M100.7 260.5h0.8M98.3 268.7h0.8M106.8 276.8h0.8M115.8 280.4h0.8M68.1 285.2h0.8M79.1 265.7h0.8M102.8 264.9h0.8M70.9 267.7h0.8M73.5 269.7h0.8M67.2 274.5h0.8M112.7 267.8h0.8M103.6 273.9h0.8M118.3 283.3h0.8M63.7 287.9h0.8M105.1 275.5h0.8M100.8 270.7h0.8M101.3 273.7h0.8M64.4 278.8h0.8M80.6 267.7h0.8M101.2 261.7h0.8M109.3 275.1h0.8M114.4 261.6h0.8M69.8 275.7h0.8M112.0 259.9h0.8M85.7 264.8h0.8M68.9 285.5h0.8M76.7 266.9h0.8M66.3 270.0h0.8M67.4 278.2h0.8M97.7 270.1h0.8M115.8 273.7h0.8M94.7 262.5h0.8M89.4 263.6h0.8M86.1 258.0h0.8M97.2 269.2h0.8M109.2 269.8h0.8M88.4 264.1h0.8M109.2 283.4h0.8M68.1 276.6h0.8M104.0 268.9h0.8M70.3 267.0h0.8M95.9 267.2h0.8M115.0 280.2h0.8M109.6 286.6h0.8M76.9 270.8h0.8M61.3 273.5h0.8M74.5 267.9h0.8M110.6 262.7h0.8M62.7 283.0h0.8M68.4 286.0h0.8M73.7 270.4h0.8M65.4 283.2h0.8M90.9 258.7h0.8M79.1 268.3h0.8M88.5 264.8h0.8M67.2 276.2h0.8M80.3 263.6h0.8M98.9 263.4h0.8M69.1 285.0h0.8M100.7 259.1h0.8M90.3 253.1h0.8M66.1 281.4h0.8M64.5 269.6h0.8M95.0 262.9h0.8M80.2 252.4h0.8M104.6 265.6h0.8M84.4 258.6h0.8M111.3 287.9h0.8M98.7 270.5h0.8M69.5 282.4h0.8M104.5 276.3h0.8M105.7 266.3h0.8M74.2 268.1h0.8M107.6 280.4h0.8M70.6 275.8h0.8M100.1 261.0h0.8M91.9 254.9h0.8M75.3 272.6h0.8M109.2 265.0h0.8M73.1 274.6h0.8M88.8 261.6h0.8M109.6 273.2h0.8M80.4 265.1h0.8M77.2 265.0h0.8M95.9 266.0h0.8M63.5 281.1h0.8M95.9 268.2h0.8M107.3 279.0h0.8M100.8 291.6h0.8M102.6 258.6h0.8M106.4 272.3h0.8M94.1 264.4h0.8M64.5 283.6h0.8M104.8 297.4h0.8M95.9 260.9h0.8M115.6 282.5h0.8M74.8 268.5h0.8M80.9 260.0h0.8M68.4 267.7h0.8M63.0 283.1h0.8M101.8 270.0h0.8M104.0 269.2h0.8M112.8 280.3h0.8M81.8 260.7h0.8M98.9 266.1h0.8M96.4 258.5h0.8M71.4 271.4h0.8M71.3 273.9h0.8M112.3 280.0h0.8M106.6 270.4h0.8M85.0 262.6h0.8M105.8 271.8h0.8M69.1 270.5h0.8M104.9 267.4h0.8M69.8 264.5h0.8M70.8 282.8h0.8M101.8 313.8h0.8M59.1 309.1h0.8M111.0 303.5h0.8M110.7 304.7h0.8M58.6 305.8h0.8M117.0 299.9h0.8M107.9 309.8h0.8M109.4 306.5h0.8M102.4 315.6h0.8M71.1 312.9h0.8M52.7 299.1h0.8M108.8 299.0h0.8M62.9 314.1h0.8M77.7 315.6h0.8M103.2 312.0h0.8M68.6 318.4h0.8M60.3 318.3h0.8M54.1 305.5h0.8M56.0 298.4h0.8M78.7 318.6h0.8M78.5 318.6h0.8M86.1 319.1h0.8M84.0 322.3h0.8M60.5 315.0h0.8M112.6 301.2h0.8M83.8 316.1h0.8M103.6 310.5h0.8M80.6 315.9h0.8M110.8 300.1h0.8M103.9 300.8h0.8M60.0 313.7h0.8M105.7 307.7h0.8M63.5 307.6h0.8M106.3 299.4h0.8M48.0 303.9h0.8M72.9 315.0h0.8M100.0 315.0h0.8M71.2 312.1h0.8M78.7 319.2h0.8M58.9 309.6h0.8M99.2 311.9h0.8M57.0 292.3h0.8M71.7 315.7h0.8M61.8 300.6h0.8M73.1 316.7h0.8M112.8 305.6h0.8M79.6 316.2h0.8M50.8 296.5h0.8M106.2 310.6h0.8M114.0 313.2h0.8M110.5 305.5h0.8M62.9 303.5h0.8M64.2 308.0h0.8M63.5 308.3h0.8M75.1 318.5h0.8M94.3 316.3h0.8M52.9 304.7h0.8M85.2 320.6h0.8M44.3 317.7h0.8M59.8 267.2h0.8M86.5 253.4h0.8M105.7 255.1h0.8M56.7 296.4h0.8M106.2 238.9h0.8M31.8 258.8h0.8M31.3 237.1h0.8M109.6 258.2h0.8M85.5 235.4h0.8M109.7 282.0h0.8M117.2 242.0h0.8M79.1 241.4h0.8M72.3 247.5h0.8M68.3 289.4h0.8M64.8 243.8h0.8M35.4 267.0h0.8M81.0 317.8h0.8" stroke="#8a8a8a" stroke-width="0.8" fill="none"/>
<clipPath id="c1"><rect x="28.7" y="234.3" width="92.0" height="57.0"/></clipPath>
<path d="M88.7 315.4 85.2 315.5 82.2 314.7 79.2 313.1 76.2 310.3 73.7 306.8 71.8 302.8 70.5 298.3 69.9 293.3 69.9 288.3 70.6 283.8 71.9 279.3 73.8 275.3 76.2 271.9 79.2 269.1 82.2 267.5 85.7 266.7 89.2 266.9 92.2 268.0 102.2 274.8 104.2 276.8 105.9 279.3 106.9 281.8 107.4 284.8 107.1 288.3 106.3 291.3 99.1 307.3 97.0 310.3 94.3 312.8 91.7 314.4 88.7 315.4Z M89.2 313.4 85.7 313.6 82.7 313.0 79.7 311.3 77.2 309.1 74.8 305.8 73.1 302.3 71.9 298.3 71.2 293.8 71.2 289.3 71.7 284.8 72.8 280.8 74.6 276.8 77.1 273.3 79.7 270.9 82.7 269.3 85.7 268.6 88.7 268.7 91.7 269.7 101.7 276.0 103.6 277.8 105.0 279.8 106.0 282.3 106.4 284.8 106.2 287.8 105.4 290.8 98.3 305.8 96.6 308.3 94.2 310.7 91.7 312.4 89.2 313.4Z M88.2 311.4 85.2 311.4 82.7 310.7 80.2 309.3 77.6 306.8 75.6 303.8 74.1 300.3 73.1 296.3 72.6 292.3 72.7 288.3 73.4 284.3 74.5 280.8 76.3 277.3 78.2 274.8 80.7 272.6 83.2 271.3 86.2 270.7 88.7 270.9 91.2 271.7 101.2 277.3 102.8 278.8 104.2 280.8 104.9 282.8 105.3 285.3 105.1 287.8 104.2 290.8 96.7 305.2 94.7 307.7 92.7 309.4 90.7 310.6 88.2 311.4Z M87.7 308.8 85.2 308.8 82.7 308.0 80.7 306.7 78.7 304.7 77.1 302.3 75.7 299.3 74.8 295.8 74.4 292.3 75.0 285.3 76.0 282.3 77.5 279.3 79.2 276.9 81.2 275.1 83.7 273.8 86.2 273.3 90.7 274.1 100.2 278.5 102.8 281.3 103.7 283.3 103.9 285.3 103.7 287.8 102.8 290.3 95.2 303.7 91.7 307.3 87.7 308.8Z M88.2 305.4 86.2 305.6 84.2 305.2 82.2 304.1 80.7 302.8 78.0 298.3 76.7 292.8 77.1 286.8 79.0 281.8 80.4 279.8 82.2 278.1 84.2 277.1 86.2 276.6 89.7 277.0 98.7 280.0 101.2 282.2 102.2 285.3 102.0 287.3 101.2 289.6 97.2 295.3 93.7 301.3 91.2 303.9 88.2 305.4Z M88.2 300.0 86.2 300.3 84.2 299.6 82.7 298.3 81.2 295.8 80.5 293.3 80.3 290.3 80.7 287.8 81.7 285.3 83.9 282.8 86.7 281.7 95.7 282.7 97.7 283.3 98.7 284.2 99.2 285.3 98.7 287.9 94.5 292.8 90.7 298.2 88.2 300.0Z" fill="none" stroke="#707070" stroke-width="0.45" clip-path="url(#c1)"/>
<path d="M53.2 292.9 50.2 293.3 47.7 292.4 45.5 290.3 44.1 287.3 43.9 283.8 44.9 280.8 47.1 278.3 49.7 277.1 52.2 277.1 54.7 278.2 56.7 280.3 57.9 283.3 58.0 286.3 57.1 289.3 55.2 291.7 53.2 292.9Z M52.7 292.0 50.2 292.2 47.9 291.3 45.9 289.3 44.9 286.8 44.9 283.8 45.7 281.3 47.4 279.3 49.7 278.2 52.2 278.2 54.2 279.1 55.9 280.8 56.9 283.3 57.0 286.3 56.3 288.8 54.7 290.8 52.7 292.0Z M52.7 289.9 51.2 290.3 49.2 289.9 47.7 288.6 46.7 286.8 46.5 284.8 47.0 282.8 48.2 281.1 49.7 280.2 51.7 280.1 53.2 280.7 54.3 281.8 55.2 283.6 55.4 285.3 55.0 287.3 54.1 288.8 52.7 289.9Z" fill="none" stroke="#666" stroke-width="0.45"/>
<path d="M70.7 311.4 68.2 311.3 66.1 309.8 64.4 306.8 63.7 303.3 63.8 299.8 64.9 296.3 66.7 293.8 69.2 292.6 71.7 293.2 73.5 294.8 74.9 297.8 75.5 300.8 75.4 304.3 74.4 307.8 72.7 310.2 70.7 311.4Z M70.7 309.8 68.7 309.9 66.7 308.5 65.4 306.3 64.7 303.3 64.8 300.3 65.7 297.3 67.2 295.2 69.2 294.2 71.2 294.6 72.7 295.9 74.0 298.3 74.5 300.8 74.5 303.8 73.8 306.3 72.7 308.3 70.7 309.8Z M70.2 307.9 68.7 307.8 67.2 306.5 66.3 304.8 65.9 302.3 66.2 299.8 67.1 297.8 68.2 296.6 69.7 296.2 71.2 296.8 72.2 297.9 73.0 299.8 73.3 301.8 73.1 303.8 72.5 305.8 71.3 307.3 70.2 307.9Z M70.2 304.5 69.2 304.6 68.7 304.2 68.0 302.3 68.5 300.3 69.7 299.5 70.7 300.2 71.2 301.8 71.0 303.3 70.2 304.5Z" fill="none" stroke="#777" stroke-width="0.45"/>
<clipPath id="c2"><rect x="28.7" y="291.3" width="92.0" height="35.0"/></clipPath>
<path d="M89.2 315.9 83.2 315.9 77.2 314.1 74.7 312.6 72.2 310.4 70.6 308.3 69.4 305.8 68.8 303.3 68.7 300.8 69.1 298.3 70.1 295.8 71.8 293.3 73.7 291.4 78.7 288.4 82.2 287.4 85.7 287.1 89.7 287.4 93.2 288.3 96.7 290.1 99.2 292.0 101.5 294.8 102.7 297.3 103.4 300.3 103.4 303.3 102.6 306.3 100.8 309.3 98.5 311.8 95.7 313.7 92.7 315.0 89.2 315.9Z M86.7 314.8 80.7 314.1 75.7 311.6 73.6 309.8 72.0 307.8 70.8 305.3 70.2 302.8 70.2 300.3 70.8 297.8 72.1 295.3 73.6 293.3 75.7 291.5 78.2 290.1 81.2 289.0 84.2 288.4 87.7 288.4 90.7 288.9 93.7 289.9 96.1 291.3 98.5 293.3 100.1 295.3 101.3 297.8 101.9 300.3 101.9 303.3 101.2 305.8 99.8 308.3 98.1 310.3 95.7 312.1 92.7 313.6 89.7 314.5 86.7 314.8Z M88.2 313.3 83.2 313.2 78.2 311.5 74.7 308.7 72.4 304.8 71.9 302.8 71.9 300.3 73.3 296.3 74.8 294.3 76.7 292.7 81.2 290.4 84.2 289.8 87.2 289.8 92.7 291.1 95.2 292.5 97.3 294.3 98.8 296.3 99.9 298.8 100.3 301.3 100.1 303.8 99.1 306.3 97.8 308.3 96.2 309.9 93.7 311.6 91.2 312.6 88.2 313.3Z M87.2 311.8 82.7 311.5 78.7 309.8 75.4 306.8 73.9 303.3 74.0 299.3 75.9 295.8 79.2 293.0 83.2 291.6 88.2 291.5 92.7 292.9 96.3 295.8 97.6 297.8 98.2 299.8 98.1 303.8 97.3 305.8 95.9 307.8 92.2 310.5 87.2 311.8Z M87.7 309.9 84.2 309.8 80.7 308.7 78.2 306.8 76.3 303.8 76.0 300.8 77.1 297.8 79.2 295.4 82.2 293.8 86.7 293.2 90.7 294.1 93.9 296.3 95.8 299.3 96.1 302.8 94.7 305.9 91.7 308.5 87.7 309.9Z M87.7 307.4 85.2 307.5 82.7 306.8 80.7 305.5 79.4 303.8 78.9 301.8 79.3 299.8 80.6 297.8 82.7 296.3 85.7 295.6 88.7 296.0 91.0 297.3 92.7 299.3 93.2 301.8 92.4 304.3 90.4 306.3 87.7 307.4Z" fill="none" stroke="#777" stroke-width="0.45" clip-path="url(#c2)"/>
<radialGradient id="g3"><stop offset="0" stop-color="#aaa" stop-opacity="1"/><stop offset="0.07" stop-color="#2a2a2a" stop-opacity="1"/><stop offset="0.28" stop-color="#262626" stop-opacity="1"/><stop offset="0.45" stop-color="#4a4a4a" stop-opacity="1"/><stop offset="0.65" stop-color="#7a7a7a" stop-opacity="0.9"/><stop offset="0.85" stop-color="#a0a0a0" stop-opacity="0.7"/><stop offset="1" stop-color="#c8c8c8" stop-opacity="0"/></radialGradient>
<ellipse cx="86.7" cy="301.8" rx="17" ry="14" fill="url(#g3)" transform="rotate(0 86.7 301.8)"/>
<ellipse cx="51.0" cy="285.3" rx="4.9" ry="5.75" fill="#fff"/>
<rect x="28.70" y="234.30" width="91.70" height="91.30" fill="none" stroke="#444" stroke-width="1.2"/>
<line x1="71.10" y1="234.30" x2="71.10" y2="325.60" stroke="#555" stroke-width="1.1"/>
<line x1="28.70" y1="292.10" x2="120.40" y2="292.10" stroke="#555" stroke-width="1.1"/>
<text x="33.00" y="244.20" font-size="8.4" text-anchor="start" fill="#2a2a2a" font-weight="normal" >1,82</text>
<text x="116.10" y="244.20" font-size="8.4" text-anchor="end" fill="#2a2a2a" font-weight="normal" >9,81</text>
<text x="33.00" y="319.80" font-size="8.4" text-anchor="start" fill="#2a2a2a" font-weight="normal" >1,70</text>
<text x="116.10" y="319.80" font-size="8.4" text-anchor="end" fill="#2a2a2a" font-weight="normal" >86,7</text>
<text x="172.45" y="227.10" font-size="9.5" text-anchor="middle" fill="#222" font-weight="normal" >Jinx</text>
<path d="M157.6 276.3h0.8M149.1 309.7h0.8M147.4 272.8h0.8M138.9 282.5h0.8M152.7 279.9h0.8M164.1 278.6h0.8M138.6 286.2h0.8M141.8 278.2h0.8M133.8 291.8h0.8M149.5 274.5h0.8M134.0 277.3h0.8M166.3 266.8h0.8M136.5 292.6h0.8M143.1 274.2h0.8M171.9 274.1h0.8M143.5 284.2h0.8M151.5 280.9h0.8M149.8 279.8h0.8M153.7 278.1h0.8M140.5 303.9h0.8M157.0 277.7h0.8M140.9 280.3h0.8M127.9 289.3h0.8M133.5 297.6h0.8M146.7 277.6h0.8M142.4 318.0h0.8M164.2 277.9h0.8M134.9 291.0h0.8M165.1 262.2h0.8M154.1 273.1h0.8M160.2 278.6h0.8M138.4 308.0h0.8M152.0 277.6h0.8M139.9 281.8h0.8M148.8 269.1h0.8M136.7 297.0h0.8M145.2 278.0h0.8M156.0 273.2h0.8M135.1 295.5h0.8M132.5 279.0h0.8M154.1 275.7h0.8M145.2 282.0h0.8M132.2 295.6h0.8M136.9 287.0h0.8M147.8 282.3h0.8M146.0 281.2h0.8M136.8 288.9h0.8M133.6 303.2h0.8M142.7 285.5h0.8M150.9 278.9h0.8M159.3 275.9h0.8M137.8 284.3h0.8M153.5 272.5h0.8M163.5 278.7h0.8M162.1 277.1h0.8M179.1 272.5h0.8M137.3 277.3h0.8M151.3 272.4h0.8M137.1 283.8h0.8M147.9 309.2h0.8M134.4 294.9h0.8M139.3 286.0h0.8M140.4 278.0h0.8M146.9 282.5h0.8M164.2 310.6h0.8M158.8 280.5h0.8M153.5 274.1h0.8M160.3 267.9h0.8M137.2 311.1h0.8M137.0 278.5h0.8M139.2 300.4h0.8M137.9 283.2h0.8M173.7 276.4h0.8M162.5 278.6h0.8M134.5 304.7h0.8M135.8 269.4h0.8M138.0 283.6h0.8M156.8 276.8h0.8M160.4 308.0h0.8M159.2 278.4h0.8M140.0 283.7h0.8M144.4 274.3h0.8M155.8 270.5h0.8M158.4 308.1h0.8M154.0 269.6h0.8M131.9 276.8h0.8M142.6 262.0h0.8M149.6 275.0h0.8M135.8 284.7h0.8M158.1 273.5h0.8M136.6 284.2h0.8M153.7 275.2h0.8M149.7 316.6h0.8M131.0 284.8h0.8M144.9 274.9h0.8M132.3 273.1h0.8M140.8 284.0h0.8M136.4 284.5h0.8M165.8 267.6h0.8M150.7 268.1h0.8M128.6 290.3h0.8M127.7 294.2h0.8M148.6 274.7h0.8M140.4 304.2h0.8M143.7 284.5h0.8M163.7 261.9h0.8M144.8 275.6h0.8M133.3 283.8h0.8M146.7 280.5h0.8M140.4 306.1h0.8M165.0 306.6h0.8M144.1 280.4h0.8M146.2 279.5h0.8M156.8 278.2h0.8M160.6 271.9h0.8M147.2 278.5h0.8M138.0 285.5h0.8M155.9 274.7h0.8M155.4 280.9h0.8M141.5 271.3h0.8M144.5 274.4h0.8M152.7 271.5h0.8M149.2 267.2h0.8M150.4 267.8h0.8M145.5 280.0h0.8M135.2 299.3h0.8M139.0 286.6h0.8M139.4 271.5h0.8M154.8 278.8h0.8M138.3 288.9h0.8M155.6 276.4h0.8M160.0 273.2h0.8M156.4 279.8h0.8M138.8 302.2h0.8M167.4 274.2h0.8M153.7 267.6h0.8M170.0 276.3h0.8M141.5 279.1h0.8M156.6 281.0h0.8M137.4 287.2h0.8M144.3 311.6h0.8M154.2 267.6h0.8M162.3 278.6h0.8M199.0 260.9h0.8M182.7 263.7h0.8M166.7 307.6h0.8M180.4 268.7h0.8M197.8 267.3h0.8M179.0 273.3h0.8M174.2 264.7h0.8M194.1 260.5h0.8M157.2 274.1h0.8M178.2 273.9h0.8M195.5 268.9h0.8M168.2 271.3h0.8M214.0 268.3h0.8M174.7 271.2h0.8M171.5 312.8h0.8M151.1 269.8h0.8M206.8 268.3h0.8M165.9 259.2h0.8M167.1 262.6h0.8M188.7 270.7h0.8M177.1 274.1h0.8M210.5 281.0h0.8M202.9 266.6h0.8M180.5 252.8h0.8M183.2 246.5h0.8M192.2 268.5h0.8M196.9 272.9h0.8M168.5 271.4h0.8M195.2 256.9h0.8M202.3 308.7h0.8M199.8 284.3h0.8M182.9 266.0h0.8M205.1 286.6h0.8M180.8 269.5h0.8M202.4 276.4h0.8M207.9 272.2h0.8M204.3 272.5h0.8M201.3 273.1h0.8M211.3 295.9h0.8M197.0 277.2h0.8M202.3 281.8h0.8M182.5 271.6h0.8M207.7 275.4h0.8M162.2 263.5h0.8M212.8 261.3h0.8M192.1 273.3h0.8M174.7 258.5h0.8M217.2 260.5h0.8M196.5 247.1h0.8M184.8 269.9h0.8M210.5 286.5h0.8M204.6 293.4h0.8M168.7 263.2h0.8M186.4 265.9h0.8M206.4 269.0h0.8M189.2 267.0h0.8M191.8 270.8h0.8M206.0 271.6h0.8M160.0 266.9h0.8M211.6 293.3h0.8M208.5 304.2h0.8M173.7 269.8h0.8M216.9 263.4h0.8M207.2 270.4h0.8M165.7 253.4h0.8M187.0 271.8h0.8M207.1 294.6h0.8M194.2 259.0h0.8M206.5 269.1h0.8M166.4 311.4h0.8M179.9 250.9h0.8M159.2 267.9h0.8M172.8 252.5h0.8M200.7 285.6h0.8M207.0 287.4h0.8M164.6 278.8h0.8M200.4 285.6h0.8M199.7 314.5h0.8M215.1 250.1h0.8M185.3 271.1h0.8M166.4 259.9h0.8M200.5 281.6h0.8M174.7 259.4h0.8M168.6 271.7h0.8M184.5 270.9h0.8M209.6 275.2h0.8M198.8 267.6h0.8M169.0 270.3h0.8M180.5 268.5h0.8M193.6 267.0h0.8M185.5 252.3h0.8M181.2 261.0h0.8M177.0 268.9h0.8M177.8 262.2h0.8M212.7 295.0h0.8M198.4 272.1h0.8M170.5 272.4h0.8M170.4 278.8h0.8M176.1 265.5h0.8M176.9 273.6h0.8M170.5 268.0h0.8M202.8 272.4h0.8M158.4 273.3h0.8M212.8 321.3h0.8M202.2 269.2h0.8M211.5 293.1h0.8M200.2 282.0h0.8M198.5 282.2h0.8M164.6 272.1h0.8M188.9 268.9h0.8M199.2 275.3h0.8M205.8 276.7h0.8M202.6 266.8h0.8M203.7 277.3h0.8M171.7 279.1h0.8M185.8 251.0h0.8M198.8 267.8h0.8M168.4 266.2h0.8M200.8 270.7h0.8M182.3 270.3h0.8M167.1 317.5h0.8M196.9 275.0h0.8M187.4 261.3h0.8M212.4 276.7h0.8M193.4 269.5h0.8M169.0 311.5h0.8M199.7 273.8h0.8M163.1 278.5h0.8M167.6 274.4h0.8M201.4 271.1h0.8M202.3 317.2h0.8M177.7 263.5h0.8M168.1 263.8h0.8M159.6 269.8h0.8M203.6 288.6h0.8M210.7 276.1h0.8M200.8 252.7h0.8M163.4 267.1h0.8M168.7 257.4h0.8M165.7 276.6h0.8M206.4 316.8h0.8M183.1 267.4h0.8M178.3 260.1h0.8M200.3 276.4h0.8M186.3 266.4h0.8M201.3 275.8h0.8M176.8 272.9h0.8M208.5 272.9h0.8M180.6 272.4h0.8M192.9 269.8h0.8M201.9 278.3h0.8M200.4 317.9h0.8M170.5 271.2h0.8M184.5 271.2h0.8M167.0 269.3h0.8M174.3 253.8h0.8M129.9 299.2h0.8M146.0 315.2h0.8M210.0 302.5h0.8M167.0 317.0h0.8M199.2 237.5h0.8M167.9 262.8h0.8M157.6 270.2h0.8M196.1 273.9h0.8M170.3 267.0h0.8M183.2 245.3h0.8M206.1 283.2h0.8" stroke="#999" stroke-width="0.8" fill="none"/>
<path d="M157.1 308.3 153.1 308.7 149.1 308.1 145.6 306.7 142.4 304.3 140.1 301.3 138.8 297.8 138.5 294.3 139.4 290.3 140.8 287.8 143.0 285.3 145.1 283.6 148.1 282.1 153.1 281.0 161.1 280.8 166.1 278.2 167.6 278.0 169.1 278.3 171.1 279.8 172.4 282.3 173.1 285.3 172.6 288.3 169.3 293.3 167.9 299.3 166.0 302.8 162.1 306.3 157.1 308.3Z M154.6 307.8 151.1 307.7 147.6 306.7 144.6 305.0 141.9 302.3 140.2 299.3 139.5 296.3 139.6 292.8 140.7 289.8 142.3 287.3 144.1 285.4 146.6 283.7 149.1 282.6 154.1 281.5 161.6 281.3 166.1 278.8 167.6 278.6 169.1 279.0 170.6 280.2 171.7 281.8 172.3 283.8 172.5 286.3 171.4 289.3 168.3 293.3 166.4 300.3 164.4 303.3 161.6 305.6 158.1 307.2 154.6 307.8Z M155.6 306.8 152.1 306.9 148.6 306.1 145.6 304.5 143.1 302.3 141.3 299.3 140.5 296.3 140.6 293.3 141.5 290.3 144.6 286.2 149.1 283.4 154.1 282.2 161.6 281.9 166.6 279.4 169.1 279.8 170.3 280.8 171.4 282.8 171.9 284.8 171.8 286.8 170.6 289.3 167.2 293.3 165.6 299.8 164.0 302.3 161.6 304.4 158.6 306.0 155.6 306.8Z M155.1 305.8 151.6 305.8 148.6 305.0 146.1 303.6 143.7 301.3 142.3 298.8 141.6 295.8 141.8 292.8 142.8 290.3 145.6 286.7 150.1 284.0 154.6 282.9 162.1 282.5 166.1 280.4 167.6 280.2 168.6 280.4 169.7 281.3 170.7 282.8 171.2 284.8 171.0 286.8 170.1 288.8 166.2 292.8 165.3 297.3 164.3 299.8 162.6 302.2 160.6 303.8 158.1 305.1 155.1 305.8Z M156.6 304.4 153.6 304.8 150.6 304.4 147.6 303.1 145.3 301.3 143.7 298.8 142.9 296.3 143.0 293.3 143.9 290.8 146.7 287.3 151.1 284.6 155.6 283.6 162.1 283.4 166.6 281.3 168.6 281.6 169.8 282.8 170.3 284.3 170.3 286.3 169.7 287.8 165.0 292.3 163.8 297.8 162.2 300.8 159.6 303.1 156.6 304.4Z M154.6 303.3 152.1 303.3 149.6 302.6 147.5 301.3 145.7 299.3 144.7 297.3 144.4 294.8 144.9 292.3 146.0 290.3 149.1 287.1 153.1 285.1 156.6 284.4 162.6 284.3 166.6 282.6 168.1 282.7 169.2 284.3 169.1 286.8 167.9 288.3 164.9 290.3 163.5 291.8 162.5 296.8 161.4 299.3 158.6 302.0 154.6 303.3Z M155.6 301.3 153.1 301.6 151.1 301.2 149.1 300.2 147.6 298.7 146.6 296.8 146.4 294.8 146.8 292.8 147.9 290.8 151.0 287.8 154.6 286.0 158.1 285.4 163.1 285.7 166.1 284.8 167.1 284.9 167.4 285.8 166.9 286.8 163.6 289.0 161.6 291.3 160.6 296.3 159.6 298.6 157.8 300.3 155.6 301.3Z M155.1 298.4 153.1 298.6 151.0 297.8 149.7 295.8 149.8 293.8 151.1 291.7 154.3 288.8 156.2 287.8 158.6 287.7 159.4 288.3 159.4 288.8 157.8 291.8 157.5 295.8 156.6 297.4 155.1 298.4Z" fill="none" stroke="#555" stroke-width="0.45"/>
<path d="M186.1 315.8 182.1 315.8 178.1 315.1 174.1 313.6 171.1 311.8 168.2 309.3 166.4 306.8 165.0 303.8 164.5 300.8 164.7 297.8 165.3 295.3 168.8 288.3 170.8 281.8 172.3 278.8 174.4 276.3 177.1 274.4 180.1 273.3 183.6 272.7 187.1 272.9 190.6 273.9 193.6 275.5 196.0 277.8 197.8 280.8 200.1 288.3 203.4 294.8 204.5 299.3 204.3 302.3 203.4 305.3 201.9 307.8 199.6 310.4 196.6 312.6 193.6 314.1 190.1 315.2 186.1 315.8Z M188.6 314.8 185.1 315.2 181.1 315.0 177.1 314.0 173.6 312.5 170.6 310.5 168.0 307.8 166.3 304.8 165.5 301.8 165.4 299.3 165.9 296.3 169.7 288.3 171.4 282.3 172.8 279.3 174.3 277.3 176.6 275.5 179.1 274.2 182.1 273.4 185.6 273.3 189.1 274.0 192.6 275.6 195.1 277.8 197.2 281.3 199.1 288.1 202.5 294.8 203.5 298.3 203.5 301.3 203.0 303.8 201.9 306.3 200.1 308.8 197.6 311.1 195.1 312.6 192.1 313.9 188.6 314.8Z M187.1 314.3 183.6 314.5 179.6 314.0 176.1 312.9 173.1 311.3 170.5 309.3 168.3 306.8 167.0 304.3 166.3 301.3 166.3 298.8 166.8 296.3 170.6 288.6 172.3 282.3 173.4 279.8 175.1 277.6 177.4 275.8 180.1 274.6 183.1 274.0 186.6 274.1 190.1 275.1 192.6 276.5 194.9 278.8 196.5 281.8 198.4 288.8 201.8 295.3 202.6 298.8 202.6 301.8 201.9 304.3 200.6 306.8 198.6 309.2 196.1 311.2 193.6 312.6 190.6 313.6 187.1 314.3Z M188.6 313.4 185.1 313.7 181.1 313.5 177.6 312.6 174.6 311.3 172.1 309.6 169.8 307.3 168.2 304.8 167.3 301.8 167.2 298.8 167.8 296.3 171.5 288.8 173.0 282.8 174.0 280.3 175.5 278.3 177.6 276.5 180.1 275.3 182.6 274.7 186.1 274.7 189.1 275.4 191.7 276.8 193.9 278.8 195.4 281.3 197.2 288.3 200.8 295.3 201.7 298.3 201.8 300.8 201.3 303.3 200.2 305.8 198.8 307.8 196.6 309.8 194.1 311.4 188.6 313.4Z M187.1 312.8 184.1 313.0 180.6 312.6 177.1 311.6 174.6 310.4 172.1 308.5 170.1 306.3 168.8 303.8 168.2 301.3 168.2 298.8 168.8 296.3 172.6 288.8 174.0 282.8 175.0 280.3 176.6 278.3 178.6 276.9 183.1 275.4 186.1 275.4 188.6 276.1 191.1 277.3 193.2 279.3 194.8 282.3 196.4 288.8 199.8 295.3 200.8 298.8 200.3 303.3 199.1 305.8 197.6 307.8 193.1 311.1 190.1 312.2 187.1 312.8Z M188.1 311.9 185.1 312.2 181.6 312.0 178.1 311.1 175.6 310.0 173.2 308.3 171.3 306.3 169.8 303.8 169.2 301.3 169.6 296.8 173.6 289.1 174.9 283.3 175.9 280.8 178.7 277.8 180.6 276.9 183.1 276.2 186.1 276.3 188.6 277.0 190.6 278.1 192.4 279.8 193.9 282.8 195.2 288.8 198.8 295.3 199.8 298.8 199.8 301.3 199.3 303.3 197.1 307.0 193.1 310.1 188.1 311.9Z M186.1 311.3 183.1 311.4 180.1 310.9 175.1 308.7 171.7 305.3 170.7 303.3 170.1 300.8 170.7 296.8 174.8 289.3 176.0 283.3 176.8 281.3 177.9 279.8 179.6 278.4 183.6 277.1 186.1 277.2 188.6 278.0 190.5 279.3 191.8 280.8 192.9 283.3 194.1 289.2 197.9 295.8 198.8 299.3 198.2 303.3 197.2 305.3 195.5 307.3 191.1 310.1 186.1 311.3Z M187.1 310.4 181.6 310.3 176.6 308.5 174.6 307.1 173.0 305.3 171.8 303.3 171.2 300.8 171.3 298.8 172.0 296.3 176.4 288.8 177.2 283.8 178.0 281.8 180.4 279.3 183.6 278.2 185.6 278.2 187.6 278.8 189.3 279.8 190.7 281.3 191.6 283.3 192.7 289.3 196.7 295.8 197.7 299.3 197.3 302.8 195.1 306.4 191.6 308.9 187.1 310.4Z M187.6 309.3 182.6 309.6 177.6 308.0 175.6 306.6 173.9 304.8 172.8 302.8 172.4 300.8 172.4 298.8 173.2 296.3 178.1 288.8 178.7 284.3 179.4 282.3 181.1 280.5 183.6 279.6 186.6 279.9 189.2 281.8 190.1 283.8 191.1 289.3 195.2 295.3 196.5 298.8 196.3 302.3 194.7 305.3 191.6 307.8 187.6 309.3Z M187.6 308.4 182.6 308.6 178.1 307.1 174.9 304.3 173.6 300.8 173.7 298.3 174.7 295.8 180.4 288.8 181.4 283.3 182.6 282.0 184.1 281.5 186.1 281.9 187.6 283.3 188.6 288.8 193.9 295.3 194.9 297.3 195.4 299.3 195.1 302.3 193.6 304.9 191.1 307.0 187.6 308.4Z M187.6 307.3 183.6 307.7 179.6 306.7 176.4 304.3 174.9 301.3 175.0 298.3 176.6 295.3 180.1 292.1 183.6 290.3 186.1 290.5 189.6 292.6 192.4 295.3 193.9 298.3 194.0 301.3 192.9 303.8 190.6 306.0 187.6 307.3Z M186.6 306.4 183.6 306.6 180.5 305.8 178.1 304.3 176.5 301.8 176.2 299.3 177.1 296.8 179.1 294.6 182.1 292.9 185.1 292.6 188.1 293.5 191.1 295.8 192.5 298.3 192.7 300.8 191.7 303.3 189.6 305.2 186.6 306.4Z M185.6 305.3 183.1 305.3 180.6 304.4 179.1 303.3 177.9 301.3 177.8 299.3 178.6 297.3 180.1 295.7 182.6 294.5 185.1 294.3 187.6 295.0 190.0 296.8 191.1 298.8 191.2 300.8 190.1 303.0 188.1 304.6 185.6 305.3Z M185.6 303.9 183.6 303.9 182.1 303.5 180.6 302.5 179.8 301.3 179.7 298.8 180.6 297.5 182.1 296.4 184.1 295.9 186.1 296.2 188.1 297.3 189.1 298.6 189.4 300.3 188.9 301.8 187.6 303.1 185.6 303.9Z M185.6 301.9 184.1 302.1 182.4 301.3 181.9 300.3 182.4 298.8 183.1 298.2 184.6 297.9 186.6 298.8 187.1 300.3 186.6 301.3 185.6 301.9Z" fill="none" stroke="#5a5a5a" stroke-width="0.45"/>
<radialGradient id="g4"><stop offset="0" stop-color="#bbb" stop-opacity="1"/><stop offset="0.1" stop-color="#333" stop-opacity="1"/><stop offset="0.4" stop-color="#2e2e2e" stop-opacity="1"/><stop offset="0.7" stop-color="#555" stop-opacity="0.8"/><stop offset="1" stop-color="#888" stop-opacity="0"/></radialGradient>
<ellipse cx="181.9" cy="300.4" rx="11" ry="10" fill="url(#g4)" transform="rotate(0 181.9 300.4)"/>
<ellipse cx="144.1" cy="295.3" rx="1.8" ry="2.2" fill="#fff"/>
<ellipse cx="183.3" cy="280.2" rx="1.2" ry="1.6" fill="#fff"/>
<rect x="126.60" y="234.30" width="91.70" height="91.30" fill="none" stroke="#444" stroke-width="1.2"/>
<line x1="169.00" y1="234.30" x2="169.00" y2="325.60" stroke="#555" stroke-width="1.1"/>
<line x1="126.60" y1="292.10" x2="218.30" y2="292.10" stroke="#555" stroke-width="1.1"/>
<text x="130.90" y="244.20" font-size="8.4" text-anchor="start" fill="#2a2a2a" font-weight="normal" >3,73</text>
<text x="214.00" y="244.20" font-size="8.4" text-anchor="end" fill="#2a2a2a" font-weight="normal" >12,9</text>
<text x="130.90" y="319.80" font-size="8.4" text-anchor="start" fill="#2a2a2a" font-weight="normal" >5,44</text>
<text x="214.00" y="319.80" font-size="8.4" text-anchor="end" fill="#2a2a2a" font-weight="normal" >78,0</text>
<text x="270.85" y="227.10" font-size="9.5" text-anchor="middle" fill="#222" font-weight="normal" >J/GFP</text>
<path d="M255.3 273.6h0.8M248.2 303.7h0.8M246.9 270.5h0.8M260.8 275.7h0.8M235.5 287.6h0.8M243.9 292.1h0.8M248.5 272.0h0.8M235.7 274.5h0.8M262.6 265.0h0.8M237.7 288.3h0.8M245.5 293.1h0.8M243.2 271.7h0.8M241.7 291.3h0.8M267.2 271.6h0.8M227.3 290.9h0.8M239.5 290.6h0.8M241.1 298.4h0.8M254.8 274.9h0.8M248.1 299.9h0.8M240.2 286.7h0.8M230.6 285.3h0.8M235.3 292.8h0.8M242.7 311.1h0.8M260.8 275.0h0.8M236.5 286.8h0.8M247.4 296.3h0.8M261.6 260.9h0.8M252.4 270.7h0.8M257.5 275.7h0.8M270.3 303.5h0.8M241.4 288.7h0.8M239.3 302.1h0.8M239.4 290.0h0.8M248.0 267.1h0.8M237.9 292.2h0.8M254.0 270.8h0.8M236.6 290.9h0.8M243.4 290.9h0.8M234.4 276.0h0.8M252.4 273.1h0.8M261.0 277.1h0.8M227.4 313.2h0.8M234.2 290.9h0.8M242.9 289.2h0.8M238.1 283.3h0.8M243.2 294.3h0.8M244.2 291.3h0.8M249.0 298.2h0.8M238.0 285.0h0.8M235.3 297.8h0.8M246.8 293.8h0.8M256.7 273.3h0.8M256.8 299.7h0.8M229.2 287.6h0.8M241.0 290.6h0.8M246.5 293.3h0.8M251.9 270.1h0.8M260.3 275.8h0.8M259.1 274.3h0.8M246.6 297.3h0.8M238.4 274.5h0.8M253.2 299.0h0.8M257.8 278.5h0.8M250.1 270.0h0.8M243.3 292.0h0.8M247.2 303.2h0.8M236.0 290.4h0.8M263.8 276.3h0.8M229.2 292.2h0.8M240.2 294.8h0.8M241.0 275.1h0.8M262.9 297.7h0.8M260.8 304.5h0.8M254.0 301.8h0.8M252.5 297.5h0.8M256.3 277.3h0.8M251.9 271.6h0.8M240.2 286.8h0.8M257.6 266.1h0.8M238.3 304.9h0.8M238.1 275.6h0.8M240.0 295.3h0.8M243.1 291.3h0.8M268.7 273.7h0.8M259.4 275.7h0.8M236.1 299.2h0.8M252.6 297.9h0.8M237.2 267.4h0.8M254.7 274.1h0.8M257.7 302.2h0.8M242.3 292.1h0.8M256.7 275.5h0.8M244.3 271.8h0.8M244.7 293.3h0.8M250.3 301.4h0.8M253.8 268.4h0.8M256.0 302.2h0.8M252.4 267.6h0.8M233.9 274.1h0.8M245.0 293.0h0.8M242.9 260.7h0.8M248.7 272.5h0.8M237.2 281.1h0.8M246.5 296.6h0.8M255.7 271.1h0.8M243.5 291.6h0.8M255.1 302.0h0.8M237.9 280.7h0.8M252.1 272.6h0.8M243.5 289.6h0.8M248.8 309.9h0.8M248.7 300.5h0.8M233.2 281.2h0.8M261.5 277.1h0.8M244.7 272.4h0.8M234.2 270.7h0.8M246.5 294.6h0.8M237.7 281.0h0.8M262.2 265.7h0.8M249.6 266.2h0.8M231.1 286.2h0.8M230.4 289.7h0.8M247.8 272.1h0.8M246.7 293.1h0.8M243.3 291.1h0.8M242.6 290.1h0.8M241.0 298.7h0.8M254.5 298.2h0.8M260.4 260.6h0.8M241.3 294.6h0.8M244.7 273.0h0.8M235.1 280.3h0.8M228.9 303.5h0.8M241.0 300.5h0.8M240.5 287.6h0.8M261.5 300.9h0.8M248.1 294.7h0.8M240.5 289.3h0.8M254.7 275.3h0.8M257.9 269.6h0.8M240.1 289.3h0.8M253.9 272.2h0.8M243.6 292.1h0.8M254.0 300.2h0.8M241.9 269.1h0.8M244.4 271.9h0.8M251.3 269.3h0.8M248.3 265.4h0.8M249.3 265.9h0.8M249.3 298.7h0.8M236.6 294.3h0.8M251.0 299.5h0.8M252.4 297.6h0.8M240.2 269.2h0.8M257.4 300.8h0.8M253.7 273.7h0.8M257.3 270.8h0.8M239.6 296.9h0.8M263.5 271.7h0.8M252.0 265.7h0.8M245.2 298.3h0.8M252.3 298.9h0.8M265.7 273.6h0.8M249.9 301.1h0.8M244.2 305.3h0.8M252.5 265.8h0.8M259.2 275.7h0.8M300.3 257.7h0.8M285.2 260.3h0.8M286.1 290.1h0.8M270.5 300.8h0.8M270.3 293.6h0.8M299.2 263.6h0.8M282.1 301.2h0.8M285.3 295.4h0.8M277.4 261.2h0.8M295.7 257.4h0.8M295.4 290.4h0.8M261.7 269.9h0.8M287.3 301.6h0.8M275.1 290.2h0.8M297.1 265.1h0.8M271.8 267.3h0.8M297.5 290.8h0.8M314.1 264.6h0.8M300.1 290.8h0.8M274.9 305.6h0.8M258.0 278.4h0.8M256.1 265.9h0.8M307.5 264.5h0.8M269.7 256.2h0.8M270.9 259.3h0.8M287.9 290.2h0.8M294.8 290.4h0.8M310.9 276.3h0.8M303.9 262.9h0.8M283.2 250.2h0.8M285.7 244.4h0.8M294.0 264.7h0.8M298.3 268.8h0.8M272.2 267.4h0.8M296.8 254.0h0.8M303.3 301.9h0.8M301.0 279.3h0.8M285.5 262.4h0.8M306.0 281.4h0.8M303.4 272.0h0.8M308.5 268.2h0.8M266.4 276.3h0.8M305.2 268.4h0.8M302.4 269.0h0.8M311.7 290.0h0.8M282.1 294.9h0.8M298.4 272.7h0.8M278.6 290.1h0.8M303.4 277.0h0.8M308.3 271.1h0.8M266.3 260.1h0.8M313.0 258.1h0.8M277.8 255.5h0.8M290.8 303.5h0.8M281.3 294.5h0.8M267.0 297.4h0.8M270.6 273.6h0.8M297.6 292.7h0.8M283.9 293.5h0.8M298.0 245.0h0.8M310.9 281.3h0.8M305.5 287.7h0.8M272.3 259.8h0.8M277.9 291.9h0.8M288.7 262.3h0.8M294.8 301.7h0.8M292.4 297.0h0.8M291.7 308.1h0.8M307.1 265.2h0.8M291.2 263.3h0.8M293.6 266.8h0.8M306.7 267.6h0.8M264.2 263.2h0.8M293.5 294.1h0.8M311.9 287.6h0.8M309.1 297.7h0.8M276.9 266.0h0.8M279.7 292.6h0.8M289.1 294.2h0.8M307.9 266.5h0.8M269.5 250.8h0.8M307.8 288.8h0.8M295.9 255.9h0.8M296.7 297.2h0.8M301.6 288.8h0.8M307.2 265.3h0.8M299.4 296.5h0.8M301.9 288.4h0.8M270.2 304.3h0.8M282.7 248.5h0.8M292.4 291.6h0.8M281.4 296.9h0.8M263.5 264.2h0.8M276.1 250.0h0.8M275.0 294.3h0.8M301.9 280.5h0.8M307.7 282.2h0.8M268.5 274.3h0.8M287.9 290.1h0.8M272.4 299.3h0.8M301.6 280.5h0.8M300.9 307.2h0.8M315.2 247.7h0.8M270.2 256.8h0.8M301.7 276.8h0.8M302.8 293.0h0.8M268.2 295.7h0.8M277.8 256.3h0.8M272.2 267.7h0.8M268.9 276.1h0.8M310.1 270.9h0.8M300.1 263.9h0.8M293.5 299.5h0.8M272.6 266.3h0.8M295.3 263.3h0.8M287.8 249.8h0.8M283.9 257.8h0.8M288.3 291.0h0.8M294.6 296.6h0.8M280.7 258.9h0.8M313.0 289.1h0.8M299.7 268.0h0.8M289.0 298.7h0.8M274.0 268.3h0.8M279.2 261.9h0.8M268.4 293.8h0.8M274.0 264.3h0.8M303.8 268.3h0.8M262.8 269.2h0.8M286.7 312.3h0.8M315.5 239.5h0.8M311.1 269.1h0.8M292.7 295.8h0.8M261.3 297.6h0.8M307.1 269.5h0.8M305.5 323.7h0.8M265.7 255.7h0.8M279.7 261.9h0.8M265.6 251.1h0.8M228.9 246.2h0.8M284.9 238.8h0.8M255.6 323.6h0.8M308.8 253.5h0.8M293.1 254.8h0.8M277.5 315.8h0.8M250.2 313.4h0.8M266.1 271.6h0.8" stroke="#999" stroke-width="0.8" fill="none"/>
<filter id="f6" x="-20%" y="-20%" width="140%" height="140%"><feGaussianBlur stdDeviation="0.8"/></filter>
<path transform="translate(225.0,234.3)" d="M57,28 C63,27.5 68,29.5 71,33 C74.5,37 76,44 77,51 C77.6,56 77.6,60 77.2,63 C76.8,68 75.5,71 74.2,73.4 C72,76.5 69.5,78.2 66.7,79 C63,80 59,80.4 55.4,80.3 C51,80.2 47.5,79.5 44.1,78.4 C39,77 35,76 32.8,74.6 C31,72 30.5,69.5 30.9,67.1 C33,64 35.5,63 37.8,62.1 C40.5,59 42,56 42.9,53.3 C43.5,48 44,42 45.5,37.5 C47.5,32 51,28.3 57,28Z" fill="#8e8e8e" fill-opacity="1" filter="url(#f6)"/>
<filter id="f7" x="-20%" y="-20%" width="140%" height="140%"><feGaussianBlur stdDeviation="0.8"/></filter>
<path transform="translate(225.0,234.3)" d="M58.2,40 L61,53 L55.5,53Z" fill="#d8d8d8" fill-opacity="0.9" filter="url(#f7)"/>
<path d="M260.0 297.8 256.0 298.1 252.0 296.9 249.9 295.3 246.5 291.4 242.0 288.6 240.0 286.8 238.5 283.8 238.2 280.8 239.2 277.8 241.2 275.3 245.0 273.4 249.0 273.2 253.0 274.8 257.5 278.7 259.0 278.7 262.5 277.1 265.0 276.7 268.0 277.6 270.1 279.3 271.5 281.8 272.1 284.8 271.8 287.8 270.8 290.3 269.0 292.7 266.5 294.8 263.5 296.6 260.0 297.8Z M258.5 296.4 255.5 296.3 252.9 295.3 251.1 293.8 248.0 289.8 243.5 287.4 241.7 285.8 240.5 283.8 240.1 281.3 240.8 278.8 242.5 276.7 244.5 275.5 246.5 274.9 248.5 275.0 250.5 275.5 253.1 277.3 256.0 281.6 257.0 282.3 259.0 282.1 262.5 279.9 264.5 279.4 266.5 279.7 268.5 281.2 269.6 283.3 269.9 285.3 269.5 287.8 268.5 289.8 266.5 292.1 263.6 294.3 261.0 295.7 258.5 296.4Z M259.5 294.9 256.5 295.2 253.7 294.3 252.0 292.8 249.7 288.8 245.0 286.8 243.0 285.3 241.8 283.3 241.5 281.3 242.1 279.3 243.2 277.8 244.6 276.8 246.5 276.2 248.5 276.2 250.5 276.9 252.6 278.8 254.6 283.3 256.0 284.4 259.0 284.2 264.0 281.5 265.5 281.6 267.0 282.5 267.8 283.8 268.1 285.3 268.0 286.8 267.1 288.8 263.3 292.8 259.5 294.9Z M259.0 293.9 256.0 294.0 253.7 292.8 252.4 290.8 251.5 287.0 246.5 286.2 244.0 284.8 243.0 283.3 242.7 281.8 243.0 280.0 244.0 278.6 245.5 277.6 247.0 277.2 249.0 277.5 250.6 278.3 252.3 280.8 252.8 285.3 253.5 286.1 259.0 285.7 264.0 283.9 265.5 284.4 266.0 286.3 265.0 288.8 261.9 292.3 259.0 293.9Z M249.0 285.3 246.0 284.9 244.2 283.3 243.8 280.8 244.5 279.6 245.5 278.7 247.0 278.2 248.5 278.3 250.0 279.1 251.0 280.3 251.5 282.3 251.1 283.8 250.3 284.8 249.0 285.3Z M258.5 292.9 256.5 293.0 254.9 292.3 253.8 290.8 254.0 288.7 255.0 287.8 256.8 287.3 260.0 287.1 262.0 287.4 262.5 288.3 261.9 290.3 260.5 291.9 258.5 292.9Z M249.0 283.9 247.0 284.1 245.5 283.2 244.9 281.3 245.9 279.8 248.0 279.4 249.6 280.3 250.1 282.3 249.0 283.9Z M258.5 291.5 257.0 291.7 256.0 291.3 255.5 290.3 256.0 289.3 258.0 288.7 259.5 289.2 259.7 290.3 258.5 291.5Z" fill="none" stroke="#777" stroke-width="0.45"/>
<clipPath id="c5"><rect x="225.0" y="234.3" width="92.0" height="56.0"/></clipPath>
<path d="M286.5 319.8 283.0 320.1 279.5 319.3 276.0 317.2 273.0 314.1 270.3 309.8 268.4 305.3 267.1 300.3 266.4 294.8 266.4 289.3 267.2 283.3 268.6 278.3 270.6 273.8 273.0 270.1 276.0 267.1 279.5 265.0 283.0 264.1 286.5 264.4 289.5 265.6 292.5 267.7 295.3 270.8 297.7 274.8 299.3 278.8 300.6 283.8 301.3 289.3 301.3 294.8 300.7 299.8 299.5 304.8 297.7 309.3 295.4 313.3 292.7 316.3 289.5 318.7 286.5 319.8Z M286.0 318.3 282.5 318.5 279.5 317.6 276.5 315.8 273.5 312.7 271.0 308.8 269.2 304.3 268.0 299.3 267.4 294.3 267.4 289.3 268.2 283.8 269.6 278.8 271.6 274.3 274.1 270.8 277.0 268.1 280.0 266.4 283.5 265.7 286.5 266.0 289.5 267.3 292.5 269.6 295.0 272.6 297.1 276.3 298.8 280.8 299.9 285.3 300.4 290.3 300.3 295.3 299.7 299.8 298.4 304.8 296.7 308.8 294.5 312.4 292.0 315.1 289.0 317.2 286.0 318.3Z M286.5 316.4 283.5 316.7 280.5 316.1 277.5 314.5 274.6 311.8 272.3 308.3 270.5 304.3 269.2 299.8 268.6 294.8 268.5 289.8 269.2 284.8 270.4 280.3 272.1 276.3 274.3 272.8 277.0 270.1 280.0 268.3 283.0 267.5 286.0 267.7 288.5 268.6 291.5 270.7 293.8 273.3 295.7 276.3 297.4 280.3 298.6 284.8 299.2 289.3 299.2 293.8 298.8 298.3 297.7 302.8 296.2 306.8 294.3 310.3 292.0 313.0 289.5 315.0 286.5 316.4Z M286.0 314.3 283.0 314.6 280.5 313.9 277.7 312.3 275.2 309.8 273.2 306.8 271.5 302.8 270.4 298.8 269.9 294.3 269.9 289.8 270.5 285.3 271.5 281.3 273.3 277.3 275.5 274.0 278.0 271.7 280.5 270.3 283.5 269.6 286.0 269.9 288.5 270.9 291.0 272.7 293.2 275.3 295.0 278.4 296.5 282.2 297.5 286.3 297.9 290.3 297.4 298.3 296.4 302.3 295.0 305.9 293.3 308.8 291.0 311.5 288.5 313.3 286.0 314.3Z M285.0 311.9 282.5 311.8 280.0 311.0 278.0 309.6 275.9 307.3 274.1 304.3 272.7 300.8 271.5 293.3 272.1 285.8 273.1 282.3 274.7 278.8 276.5 276.1 278.5 274.2 281.0 272.8 283.5 272.3 286.0 272.6 288.0 273.4 290.0 274.9 292.1 277.3 293.8 280.3 295.0 283.3 296.3 290.8 295.7 298.3 293.4 304.8 291.5 307.8 289.5 309.8 287.5 311.1 285.0 311.9Z M284.0 308.3 282.0 308.0 280.0 307.1 276.9 303.8 274.5 298.3 273.7 292.3 274.5 285.9 276.6 280.8 278.1 278.8 280.0 277.1 282.0 276.2 284.0 275.9 286.0 276.3 288.0 277.3 291.1 280.8 293.3 286.3 294.0 292.3 293.2 298.3 291.0 303.6 288.0 306.9 286.0 308.0 284.0 308.3Z M285.0 300.8 282.7 300.8 280.6 299.3 279.0 296.4 278.4 293.3 278.5 289.8 279.5 286.6 281.2 284.3 283.5 283.2 285.5 283.6 287.4 285.3 288.7 287.8 289.4 290.8 289.3 293.8 288.5 297.0 287.0 299.5 285.0 300.8Z" fill="none" stroke="#6a6a6a" stroke-width="0.45" clip-path="url(#c5)"/>
<radialGradient id="g8"><stop offset="0" stop-color="#f4f4f4" stop-opacity="1"/><stop offset="0.1" stop-color="#aaa" stop-opacity="1"/><stop offset="0.3" stop-color="#666" stop-opacity="1"/><stop offset="0.7" stop-color="#5a5a5a" stop-opacity="1"/><stop offset="1" stop-color="#666" stop-opacity="1"/></radialGradient>
<ellipse cx="282.7" cy="301.0" rx="11" ry="10" fill="url(#g8)" transform="rotate(0 282.7 301.0)"/>
<ellipse cx="280.8" cy="299.9" rx="11.2" ry="9.85" fill="none" stroke="#3a3a3a" stroke-width="1.1"/>
<ellipse cx="247.1" cy="281.5" rx="2.8" ry="2.8" fill="#fff"/>
<rect x="225.00" y="234.30" width="91.70" height="91.30" fill="none" stroke="#444" stroke-width="1.2"/>
<line x1="267.40" y1="234.30" x2="267.40" y2="325.60" stroke="#555" stroke-width="1.1"/>
<line x1="225.00" y1="292.10" x2="316.70" y2="292.10" stroke="#555" stroke-width="1.1"/>
<text x="229.30" y="244.20" font-size="8.4" text-anchor="start" fill="#2a2a2a" font-weight="normal" >4,40</text>
<text x="312.40" y="244.20" font-size="8.4" text-anchor="end" fill="#2a2a2a" font-weight="normal" >23,5</text>
<text x="229.30" y="319.80" font-size="8.4" text-anchor="start" fill="#2a2a2a" font-weight="normal" >3,37</text>
<text x="312.40" y="319.80" font-size="8.4" text-anchor="end" fill="#2a2a2a" font-weight="normal" >68,8</text>
<text x="368.85" y="227.10" font-size="9.5" text-anchor="middle" fill="#222" font-weight="normal" >J/B6</text>
<path d="M364.2 294.4h0.8M345.8 304.7h0.8M344.3 267.8h0.8M336.5 277.5h0.8M339.2 273.2h0.8M331.9 286.8h0.8M346.2 269.5h0.8M332.1 272.3h0.8M361.6 261.8h0.8M334.3 287.6h0.8M340.4 269.2h0.8M366.8 269.1h0.8M336.2 290.2h0.8M338.0 298.9h0.8M345.7 300.6h0.8M326.5 284.3h0.8M331.6 292.6h0.8M339.7 313.0h0.8M332.9 286.0h0.8M360.6 257.2h0.8M350.5 268.1h0.8M336.1 303.0h0.8M345.6 264.1h0.8M334.5 292.0h0.8M352.2 268.2h0.8M333.1 290.5h0.8M330.6 274.0h0.8M330.4 290.6h0.8M334.7 282.0h0.8M334.6 283.9h0.8M331.7 298.2h0.8M390.7 266.3h0.8M384.9 262.1h0.8M394.9 269.6h0.8M393.5 267.7h0.8M410.5 262.2h0.8M368.7 267.9h0.8M382.7 262.0h0.8M399.2 270.3h0.8M402.7 276.2h0.8M405.9 284.4h0.8M371.8 268.8h0.8M406.2 283.2h0.8M404.3 290.9h0.8M384.9 264.0h0.8M391.7 256.7h0.8M368.4 269.4h0.8M405.1 266.8h0.8M393.9 269.5h0.8M412.5 273.1h0.8M367.2 258.4h0.8M388.2 267.3h0.8M399.4 294.2h0.8M390.6 269.2h0.8M375.8 264.4h0.8M387.2 259.7h0.8M385.4 258.6h0.8M363.3 267.3h0.8M374.0 249.6h0.8M381.0 265.2h0.8M389.5 263.3h0.8M372.3 265.0h0.8M330.6 258.9h0.8M365.7 296.2h0.8M363.9 253.9h0.8" stroke="#999" stroke-width="0.8" fill="none"/>
<filter id="f11" x="-20%" y="-20%" width="140%" height="140%"><feGaussianBlur stdDeviation="1.2"/></filter>
<path transform="translate(323.0,234.3)" d="M40,62 C40,50 48,36 59,35 C70,35 77,50 77,62 C77,74 70,80 59,80 C48,80 40,74 40,62Z" fill="#b0b0b0" fill-opacity="0.8" filter="url(#f11)"/>
<path d="M355.0 301.4 352.5 301.5 350.0 301.1 347.0 300.0 344.0 298.4 338.9 294.3 337.0 291.8 335.8 289.3 335.1 286.8 334.8 283.8 335.8 278.8 337.1 276.3 339.0 274.0 341.0 272.4 343.5 271.1 346.5 270.3 349.5 270.2 360.5 272.0 363.0 273.0 365.0 274.2 366.6 275.8 367.7 277.8 368.1 279.8 367.8 282.3 366.9 284.3 363.2 289.3 362.6 294.3 361.8 296.8 360.5 298.6 359.0 299.9 355.0 301.4Z M355.5 300.3 351.0 300.4 348.5 299.6 345.5 298.2 340.0 294.0 338.2 291.8 336.8 289.3 335.8 284.3 336.7 279.3 338.0 276.8 339.5 275.0 343.5 272.2 346.0 271.5 349.0 271.2 359.5 272.7 364.0 274.6 365.5 276.0 366.6 277.8 367.1 279.8 366.7 282.3 365.7 284.3 362.3 288.8 361.5 294.3 360.9 296.3 358.8 298.8 355.5 300.3Z M355.0 299.4 353.0 299.6 350.5 299.2 346.0 297.2 340.9 293.3 339.2 291.3 337.8 288.8 336.9 284.3 337.7 279.8 340.3 275.8 344.0 273.3 346.5 272.5 349.0 272.3 359.0 273.5 363.2 275.3 364.8 276.8 365.6 278.3 365.9 279.8 365.7 281.8 364.8 283.8 361.0 288.6 360.4 293.8 359.8 295.8 358.0 298.0 355.0 299.4Z M353.0 298.3 349.0 297.4 344.0 294.3 340.5 291.0 338.6 287.3 338.2 283.3 339.3 279.3 342.0 275.9 345.5 274.1 350.0 273.6 359.0 274.7 362.5 276.2 364.4 278.8 364.6 280.8 363.9 282.8 360.5 286.8 359.5 288.6 359.1 293.3 358.5 295.3 356.5 297.4 353.0 298.3Z M354.5 296.4 351.5 296.6 347.5 294.9 343.0 291.5 340.6 288.3 339.7 284.8 340.1 281.3 341.8 278.3 344.5 276.1 346.5 275.4 349.0 275.1 357.0 275.6 360.5 276.7 362.6 278.8 362.9 280.3 362.4 282.3 358.9 286.3 357.8 288.3 356.9 294.3 356.0 295.5 354.5 296.4Z M353.5 293.9 351.0 294.1 348.0 292.8 344.5 290.3 342.5 287.8 341.6 285.3 341.8 282.3 343.0 279.8 345.5 277.8 349.0 276.9 355.5 277.2 358.5 277.9 360.2 279.3 360.5 280.3 360.2 281.8 356.1 286.8 354.8 292.3 353.5 293.9Z M350.5 289.0 349.0 289.2 347.0 288.3 345.5 286.9 344.7 285.3 344.7 283.3 345.3 281.8 346.5 280.7 348.0 280.0 352.0 279.9 354.0 280.5 354.9 281.3 354.9 282.3 354.1 283.8 351.8 287.8 350.5 289.0Z" fill="none" stroke="#666" stroke-width="0.45"/>
<clipPath id="c9"><rect x="323.0" y="234.3" width="92.0" height="60.0"/></clipPath>
<path d="M382.5 316.3 378.5 316.0 375.0 314.7 372.0 312.8 369.0 309.8 366.6 306.3 364.7 302.3 363.5 297.8 363.0 292.8 363.3 287.8 364.3 283.3 365.9 279.3 368.3 275.3 371.0 272.3 374.0 270.1 377.5 268.5 381.5 267.9 385.0 268.2 389.0 269.5 393.0 271.6 397.0 274.6 399.5 277.3 401.3 280.3 402.4 283.3 402.8 286.8 402.4 291.8 400.9 297.3 398.7 303.3 396.0 308.2 393.4 311.3 390.0 314.0 386.5 315.6 382.5 316.3Z M383.5 315.4 380.0 315.3 376.5 314.4 373.0 312.5 370.0 309.8 367.7 306.8 365.7 302.8 364.3 298.3 363.7 293.3 363.9 288.8 364.7 284.3 366.2 280.3 368.5 276.3 371.5 272.9 374.5 270.8 378.0 269.3 381.5 268.8 385.0 269.1 388.5 270.1 393.0 272.5 396.5 275.0 399.0 277.5 400.7 280.3 401.8 283.3 402.3 286.8 401.9 291.3 400.7 295.8 398.1 302.8 395.7 307.3 393.0 310.6 390.0 313.0 387.0 314.5 383.5 315.4Z M384.0 314.4 380.5 314.5 377.0 313.6 373.5 311.8 370.7 309.3 368.4 306.3 366.3 302.3 365.1 298.3 364.5 293.8 364.6 289.3 365.2 285.3 366.8 280.8 368.8 277.3 371.3 274.3 374.0 272.1 377.5 270.4 381.0 269.7 384.5 269.9 388.0 270.9 392.5 273.0 396.0 275.4 398.5 277.8 400.1 280.3 401.3 283.3 401.8 286.3 401.6 289.8 400.6 294.3 397.8 301.8 395.5 306.1 393.1 309.3 390.5 311.6 387.5 313.3 384.0 314.4Z M384.0 313.3 380.5 313.5 377.5 312.8 374.5 311.3 371.4 308.8 369.1 305.8 367.2 302.3 365.9 298.3 365.2 293.8 365.3 289.3 366.1 285.3 367.5 281.3 369.5 277.8 372.0 274.9 374.5 272.9 377.5 271.4 381.0 270.7 384.0 270.8 387.5 271.7 392.0 273.6 395.5 275.8 397.6 277.8 399.4 280.3 400.7 283.3 401.2 286.3 401.0 289.8 400.1 293.8 397.4 300.8 395.0 305.3 392.8 308.3 390.0 310.8 387.0 312.5 384.0 313.3Z M383.5 312.3 380.5 312.4 377.0 311.5 374.0 309.8 371.5 307.5 369.5 304.8 367.7 301.3 366.6 297.3 366.1 293.3 366.2 289.3 366.9 285.3 368.2 281.8 370.2 278.3 372.5 275.7 375.5 273.5 378.5 272.2 381.5 271.7 385.0 272.0 388.5 273.0 392.5 274.8 395.5 276.7 397.6 278.8 399.3 281.3 400.2 283.8 400.6 286.3 400.4 289.8 399.4 293.8 396.7 300.3 394.3 304.8 392.0 307.8 389.5 309.9 386.5 311.6 383.5 312.3Z M385.0 310.9 382.0 311.3 379.0 310.9 376.0 309.7 373.3 307.8 371.0 305.3 369.2 302.3 367.9 298.8 367.1 294.8 367.0 291.3 367.4 287.3 368.4 283.8 370.1 280.3 372.4 277.3 374.7 275.3 377.5 273.8 380.5 273.0 383.5 272.9 386.5 273.5 391.0 275.1 394.0 276.6 396.2 278.3 398.0 280.5 399.2 282.8 399.9 285.8 399.8 289.3 398.9 292.8 394.1 303.3 392.0 306.2 390.0 308.2 387.5 309.9 385.0 310.9Z M383.5 309.9 380.5 309.9 378.0 309.3 375.5 308.0 373.0 305.9 371.0 303.3 369.5 300.3 368.4 296.8 368.0 293.3 368.1 289.8 368.7 286.3 369.8 283.3 371.5 280.2 373.5 277.8 376.0 275.9 378.5 274.7 381.5 274.2 384.5 274.3 388.0 275.1 392.0 276.5 394.5 277.9 396.5 279.7 398.0 281.8 399.2 286.3 399.1 289.3 398.1 292.8 392.8 303.3 390.9 305.8 388.5 307.8 386.0 309.2 383.5 309.9Z M384.0 308.3 381.0 308.5 378.5 308.0 376.0 306.7 374.0 305.1 372.1 302.8 370.8 300.3 369.7 297.3 369.1 293.8 369.1 290.3 369.6 287.3 370.6 284.3 372.2 281.3 374.0 279.1 376.5 277.2 379.0 276.1 381.5 275.6 387.5 276.1 391.0 277.2 393.5 278.4 395.5 279.9 397.0 281.8 398.0 283.8 398.5 286.3 398.3 289.3 397.4 292.3 392.4 301.8 390.5 304.3 388.5 306.2 386.5 307.4 384.0 308.3Z M383.0 306.8 380.5 306.8 378.0 306.0 376.0 304.8 374.0 302.9 372.5 300.7 371.3 297.8 370.4 291.8 370.7 288.8 371.5 285.8 372.6 283.3 374.5 280.8 376.5 279.0 378.5 277.9 381.0 277.2 383.5 277.1 390.0 278.0 394.0 279.9 395.6 281.3 396.8 283.3 397.6 287.3 397.3 289.8 396.2 292.8 390.7 301.8 387.0 305.4 383.0 306.8Z M383.0 304.8 380.5 304.8 378.0 303.9 375.9 302.3 373.9 299.8 372.6 296.8 372.0 293.8 372.0 290.3 372.7 287.3 375.1 282.8 377.0 280.9 379.0 279.8 381.5 279.1 384.0 278.8 388.0 279.0 391.0 279.6 394.0 281.3 395.9 283.8 396.6 286.8 396.1 290.3 394.0 294.4 389.0 301.3 386.0 303.8 383.0 304.8Z M384.0 301.9 381.5 302.2 379.5 301.8 377.5 300.5 376.0 298.9 374.7 296.3 374.1 293.8 374.0 290.8 374.6 288.3 376.5 284.6 378.0 283.2 380.0 282.0 382.5 281.2 386.0 280.8 391.0 281.2 393.1 282.3 394.8 284.3 395.4 286.8 395.0 289.8 393.0 293.3 388.5 298.6 386.1 300.8 384.0 301.9Z M382.5 297.8 380.0 297.1 379.0 296.3 378.0 294.6 377.6 291.3 378.8 287.8 381.5 285.3 386.0 283.3 389.5 282.9 392.0 283.7 393.1 284.8 393.8 286.8 393.5 288.8 392.6 290.8 390.5 293.0 386.5 296.1 384.5 297.3 382.5 297.8Z" fill="none" stroke="#555" stroke-width="0.45" clip-path="url(#c9)"/>
<clipPath id="c10"><rect x="323.0" y="292.3" width="92.0" height="34.0"/></clipPath>
<path d="M385.0 316.4 379.0 316.4 373.0 314.6 370.5 313.1 368.0 310.9 366.4 308.8 365.2 306.3 364.6 303.8 364.5 301.3 364.9 298.8 365.9 296.3 367.5 293.8 369.5 291.8 374.5 288.9 378.0 287.9 381.5 287.6 385.5 287.9 389.0 288.8 392.5 290.6 395.0 292.5 397.3 295.3 398.5 297.8 399.2 300.8 399.2 303.8 398.4 306.8 396.6 309.8 394.2 312.3 391.5 314.2 388.5 315.5 385.0 316.4Z M382.5 315.3 376.5 314.6 371.5 312.1 369.4 310.3 367.8 308.3 366.6 305.8 366.0 303.3 366.0 300.8 366.6 298.3 367.8 295.8 369.4 293.8 371.5 292.0 374.0 290.6 377.0 289.5 380.0 288.9 383.5 288.9 386.5 289.4 389.5 290.4 391.9 291.8 394.3 293.8 395.9 295.8 397.1 298.3 397.7 300.8 397.7 303.8 397.0 306.3 395.6 308.8 393.9 310.8 391.5 312.6 388.5 314.1 385.5 315.0 382.5 315.3Z M383.5 313.9 378.5 313.6 373.5 311.7 369.7 308.3 367.9 304.3 367.6 301.8 367.9 299.8 369.8 295.8 373.5 292.5 378.0 290.7 381.0 290.2 384.0 290.4 387.0 291.0 389.5 292.1 393.6 295.3 394.9 297.3 395.9 299.8 396.1 302.3 395.7 304.8 394.9 306.8 393.5 308.9 391.5 310.8 389.0 312.3 383.5 313.9Z M383.0 312.3 378.5 312.0 374.5 310.3 371.2 307.3 369.7 303.8 369.8 299.8 371.7 296.3 375.0 293.5 379.0 292.1 384.0 292.0 388.5 293.4 392.1 296.3 393.3 298.3 394.0 300.3 393.9 304.3 393.1 306.3 391.7 308.3 388.0 311.0 383.0 312.3Z M383.5 310.4 380.0 310.3 376.5 309.2 374.0 307.3 372.1 304.3 371.8 301.3 372.9 298.3 375.0 295.9 378.0 294.3 382.5 293.7 386.5 294.6 389.7 296.8 391.6 299.8 391.8 303.3 390.5 306.4 387.5 309.0 383.5 310.4Z M383.5 307.9 381.0 308.0 378.5 307.3 376.5 306.0 375.2 304.3 374.7 302.3 375.0 300.3 376.3 298.3 378.5 296.8 381.5 296.1 384.5 296.5 386.8 297.8 388.5 299.8 389.0 302.3 388.2 304.8 386.2 306.8 383.5 307.9Z" fill="none" stroke="#777" stroke-width="0.45" clip-path="url(#c10)"/>
<radialGradient id="g12"><stop offset="0" stop-color="#aaa" stop-opacity="1"/><stop offset="0.07" stop-color="#2a2a2a" stop-opacity="1"/><stop offset="0.28" stop-color="#262626" stop-opacity="1"/><stop offset="0.45" stop-color="#4a4a4a" stop-opacity="1"/><stop offset="0.65" stop-color="#7a7a7a" stop-opacity="0.9"/><stop offset="0.85" stop-color="#a0a0a0" stop-opacity="0.7"/><stop offset="1" stop-color="#c8c8c8" stop-opacity="0"/></radialGradient>
<ellipse cx="383.0" cy="300.5" rx="15" ry="13.5" fill="url(#g12)" transform="rotate(0 383.0 300.5)"/>
<ellipse cx="347.5" cy="283.5" rx="1.3" ry="1.5" fill="#fff"/>
<ellipse cx="382.4" cy="279.3" rx="2.1" ry="5" fill="#fff"/>
<rect x="323.00" y="234.30" width="91.70" height="91.30" fill="none" stroke="#444" stroke-width="1.2"/>
<line x1="365.40" y1="234.30" x2="365.40" y2="325.60" stroke="#555" stroke-width="1.1"/>
<line x1="323.00" y1="292.10" x2="414.70" y2="292.10" stroke="#555" stroke-width="1.1"/>
<text x="327.30" y="244.20" font-size="8.4" text-anchor="start" fill="#2a2a2a" font-weight="normal" >4,15</text>
<text x="410.40" y="244.20" font-size="8.4" text-anchor="end" fill="#2a2a2a" font-weight="normal" >11,0</text>
<text x="327.30" y="319.80" font-size="8.4" text-anchor="start" fill="#2a2a2a" font-weight="normal" >1,95</text>
<text x="410.40" y="319.80" font-size="8.4" text-anchor="end" fill="#2a2a2a" font-weight="normal" >82,9</text>
<text x="467.05" y="227.10" font-size="9.5" text-anchor="middle" fill="#222" font-weight="normal" >J/Munc</text>
<path d="M448.3 274.6h0.8M453.8 293.0h0.8M457.5 298.9h0.8M441.6 309.7h0.8M451.3 295.3h0.8M440.3 271.0h0.8M433.5 281.1h0.8M450.8 297.7h0.8M453.6 277.0h0.8M433.3 285.0h0.8M435.9 276.7h0.8M429.5 291.0h0.8M437.5 296.2h0.8M441.9 272.7h0.8M452.6 290.3h0.8M429.7 275.8h0.8M453.6 295.4h0.8M453.5 291.0h0.8M455.2 264.7h0.8M431.7 291.8h0.8M456.8 292.3h0.8M436.9 272.4h0.8M435.4 295.3h0.8M459.7 272.3h0.8M433.3 294.5h0.8M445.3 276.5h0.8M434.8 303.6h0.8M447.9 276.1h0.8M435.2 278.8h0.8M441.5 305.4h0.8M434.0 290.0h0.8M424.9 288.3h0.8M451.9 295.3h0.8M429.3 297.0h0.8M439.7 276.0h0.8M451.3 302.1h0.8M436.3 318.5h0.8M453.6 276.3h0.8M430.4 290.1h0.8M440.8 301.2h0.8M454.3 259.8h0.8M445.6 271.3h0.8M455.7 290.1h0.8M450.4 277.1h0.8M435.1 292.2h0.8M433.2 307.9h0.8M443.9 276.0h0.8M433.2 293.7h0.8M434.3 280.5h0.8M441.4 267.1h0.8M431.8 296.4h0.8M438.5 276.5h0.8M447.1 271.4h0.8M462.4 282.0h0.8M430.6 294.8h0.8M428.5 277.5h0.8M445.6 274.0h0.8M453.7 278.7h0.8M428.3 294.9h0.8M432.0 285.9h0.8M436.9 298.8h0.8M458.9 288.3h0.8M448.3 298.3h0.8M442.3 303.4h0.8M431.9 287.9h0.8M429.4 302.9h0.8M456.0 288.5h0.8M449.7 274.3h0.8M449.8 305.1h0.8M423.5 291.0h0.8M434.8 294.5h0.8M432.7 283.1h0.8M445.1 270.6h0.8M453.2 292.7h0.8M453.1 277.2h0.8M451.6 298.9h0.8M445.6 300.8h0.8M452.0 275.5h0.8M449.5 296.1h0.8M465.4 270.7h0.8M440.1 302.3h0.8M432.3 275.7h0.8M450.1 299.0h0.8M446.3 304.2h0.8M444.3 300.3h0.8M450.7 280.4h0.8M451.7 296.4h0.8M443.4 270.5h0.8M437.0 296.1h0.8M432.2 282.5h0.8M440.7 309.2h0.8M430.0 294.2h0.8M454.2 292.3h0.8M456.4 277.8h0.8M423.5 296.4h0.8M433.8 284.9h0.8M434.0 299.3h0.8M453.4 280.7h0.8M453.8 289.6h0.8M434.7 276.5h0.8M455.6 302.7h0.8M453.5 292.1h0.8M453.6 310.7h0.8M447.1 307.6h0.8M445.7 302.6h0.8M449.3 279.0h0.8M445.1 272.3h0.8M454.7 292.4h0.8M454.7 301.6h0.8M434.0 290.0h0.8M455.7 291.2h0.8M450.5 265.9h0.8M432.2 311.1h0.8M432.0 277.0h0.8M433.8 300.0h0.8M436.8 295.3h0.8M432.8 281.9h0.8M461.1 274.7h0.8M452.9 290.9h0.8M452.2 277.1h0.8M454.2 294.3h0.8M430.1 304.5h0.8M445.7 303.0h0.8M431.1 267.4h0.8M432.9 282.3h0.8M447.8 275.2h0.8M450.6 308.0h0.8M456.6 298.7h0.8M436.0 296.2h0.8M444.4 300.2h0.8M449.6 276.9h0.8M446.4 301.1h0.8M434.5 282.4h0.8M437.9 272.6h0.8M454.3 302.1h0.8M452.8 290.8h0.8M438.3 297.7h0.8M455.1 298.1h0.8M443.6 307.1h0.8M446.9 268.5h0.8M449.0 308.1h0.8M451.7 297.5h0.8M445.5 267.6h0.8M428.0 275.2h0.8M438.5 297.2h0.8M436.5 259.6h0.8M442.0 273.3h0.8M431.1 283.4h0.8M440.0 301.5h0.8M448.8 271.7h0.8M437.1 295.7h0.8M448.2 307.8h0.8M431.8 282.9h0.8M465.9 273.4h0.8M445.3 273.5h0.8M452.0 293.0h0.8M442.1 317.0h0.8M442.1 306.0h0.8M427.3 283.6h0.8M454.2 278.7h0.8M445.5 300.0h0.8M438.3 273.2h0.8M428.3 271.3h0.8M440.0 299.1h0.8M435.0 282.7h0.8M431.6 283.3h0.8M454.9 265.5h0.8M442.9 266.0h0.8M425.4 289.4h0.8M424.7 293.5h0.8M441.2 272.9h0.8M452.7 291.3h0.8M436.9 295.1h0.8M436.3 293.9h0.8M434.7 303.9h0.8M447.6 303.3h0.8M453.2 259.5h0.8M435.1 299.1h0.8M449.6 298.6h0.8M438.3 273.9h0.8M429.1 282.5h0.8M423.3 309.5h0.8M434.7 306.0h0.8M460.0 291.2h0.8M434.2 291.0h0.8M454.2 306.5h0.8M441.5 299.3h0.8M437.7 278.9h0.8M439.3 278.0h0.8M454.5 298.0h0.8M434.3 293.0h0.8M447.7 276.7h0.8M450.8 270.0h0.8M440.2 276.9h0.8M454.2 294.2h0.8M456.4 289.7h0.8M432.9 284.3h0.8M433.9 293.0h0.8M456.6 291.6h0.8M447.0 273.0h0.8M437.2 296.3h0.8M447.1 305.7h0.8M435.6 269.4h0.8M453.9 298.1h0.8M438.0 272.6h0.8M444.5 269.6h0.8M441.7 265.1h0.8M442.7 265.7h0.8M442.6 303.9h0.8M430.6 298.8h0.8M444.3 304.9h0.8M433.6 285.5h0.8M445.5 302.7h0.8M462.1 281.0h0.8M434.0 269.6h0.8M453.6 291.9h0.8M450.3 306.4h0.8M433.1 287.9h0.8M446.8 274.7h0.8M449.1 301.7h0.8M450.2 271.4h0.8M433.4 301.9h0.8M450.8 302.0h0.8M456.1 272.4h0.8M445.2 265.5h0.8M453.5 301.5h0.8M445.8 301.3h0.8M452.1 293.7h0.8M438.7 303.5h0.8M445.4 304.2h0.8M458.2 274.7h0.8M435.7 277.5h0.8M449.1 302.8h0.8M432.3 286.1h0.8M443.2 306.7h0.8M457.2 297.1h0.8M437.8 311.7h0.8M445.7 265.6h0.8M452.1 277.0h0.8M434.3 294.6h0.8M436.9 296.9h0.8M455.7 269.4h0.8M443.8 271.6h0.8M432.1 307.1h0.8M442.1 275.7h0.8M432.0 288.2h0.8M432.0 300.8h0.8M454.9 274.6h0.8M441.3 307.5h0.8M443.8 302.3h0.8M437.6 272.5h0.8M452.1 269.1h0.8M431.4 289.1h0.8M452.7 293.6h0.8M451.9 298.0h0.8M425.2 280.1h0.8M451.5 296.5h0.8M445.5 307.8h0.8M435.7 297.9h0.8M453.2 275.8h0.8M434.3 295.0h0.8M433.2 277.8h0.8M453.5 298.3h0.8M438.0 277.7h0.8M453.6 291.1h0.8M455.6 298.3h0.8M435.6 311.4h0.8M454.2 294.4h0.8M422.2 287.5h0.8M461.5 275.3h0.8M436.7 295.7h0.8M431.5 268.1h0.8M432.4 270.8h0.8M448.2 277.3h0.8M451.4 298.0h0.8M449.6 295.9h0.8M458.6 274.0h0.8M442.2 262.8h0.8M444.2 257.8h0.8M450.8 275.5h0.8M454.2 279.1h0.8M433.5 277.9h0.8M453.0 266.1h0.8M430.9 298.3h0.8M430.3 290.3h0.8M458.1 308.0h0.8M450.1 297.6h0.8M456.3 288.3h0.8M444.0 273.5h0.8M460.2 290.2h0.8M442.5 276.4h0.8M462.2 278.5h0.8M428.9 285.7h0.8M459.6 278.8h0.8M457.4 279.3h0.8M441.3 301.9h0.8M438.6 297.8h0.8M452.5 289.3h0.8M453.4 291.6h0.8M429.6 292.8h0.8M462.1 281.1h0.8M428.8 271.5h0.8M465.8 269.7h0.8M450.7 279.4h0.8M437.9 267.5h0.8M436.6 296.5h0.8M432.0 294.6h0.8M448.2 309.5h0.8M440.7 301.6h0.8M429.4 304.1h0.8M432.2 283.3h0.8M453.6 300.0h0.8M442.7 300.7h0.8M469.0 269.1h0.8M453.9 258.3h0.8M459.8 295.7h0.8M433.6 271.3h0.8M438.0 299.4h0.8M446.5 273.4h0.8M434.4 293.7h0.8M433.9 285.1h0.8M451.4 307.9h0.8M434.3 291.9h0.8M449.5 303.8h0.8M449.0 313.5h0.8M461.1 276.0h0.8M448.5 274.3h0.8M429.5 296.1h0.8M450.4 277.4h0.8M460.8 278.0h0.8M434.1 295.2h0.8M427.2 274.2h0.8M450.4 301.3h0.8M437.2 276.6h0.8M439.5 300.0h0.8M468.8 271.4h0.8M446.9 301.4h0.8M461.7 277.1h0.8M432.8 294.3h0.8M431.4 263.3h0.8M453.6 296.3h0.8M452.3 267.8h0.8M452.9 304.0h0.8M456.8 296.6h0.8M461.2 276.0h0.8M455.0 303.3h0.8M457.0 296.2h0.8M431.9 310.2h0.8M441.8 261.3h0.8M449.5 299.1h0.8M440.7 303.7h0.8M426.6 275.1h0.8M436.6 262.6h0.8M435.7 301.4h0.8M457.0 289.3h0.8M430.9 298.8h0.8M430.6 283.9h0.8M433.6 305.8h0.8M456.8 289.4h0.8M456.2 312.7h0.8M467.5 260.7h0.8M452.6 297.4h0.8M431.9 268.6h0.8M432.5 291.5h0.8M457.7 300.3h0.8M430.3 302.6h0.8M437.9 268.2h0.8M433.5 278.2h0.8M430.9 285.5h0.8M470.5 268.4h0.8M455.6 274.8h0.8M427.3 301.9h0.8M448.9 297.3h0.8M435.1 294.5h0.8M450.3 306.0h0.8M433.8 277.0h0.8M442.2 275.5h0.8M451.8 274.3h0.8M445.8 262.5h0.8M434.7 284.7h0.8M442.7 269.5h0.8M439.6 275.8h0.8M451.2 303.4h0.8M440.2 270.5h0.8M455.3 278.4h0.8M427.0 296.3h0.8M453.2 288.8h0.8M446.8 305.3h0.8M434.9 278.7h0.8M434.8 283.8h0.8M439.0 273.1h0.8M430.5 301.0h0.8M452.4 294.2h0.8M434.9 275.2h0.8M458.5 278.7h0.8M426.0 279.4h0.8M448.9 301.6h0.8M465.8 318.2h0.8M458.0 276.1h0.8M450.8 295.8h0.8M454.9 305.6h0.8M430.6 278.5h0.8M448.3 275.9h0.8M439.0 305.5h0.8M455.9 281.0h0.8M446.0 302.8h0.8M437.3 302.0h0.8M435.5 297.4h0.8M452.0 301.8h0.8M458.4 274.2h0.8M457.4 301.9h0.8M440.1 299.2h0.8M432.1 284.5h0.8M433.7 285.6h0.8M446.1 261.4h0.8M448.6 303.2h0.8M455.6 275.0h0.8M433.4 273.7h0.8M453.1 293.5h0.8M457.1 277.3h0.8M432.4 315.1h0.8M454.2 280.8h0.8M447.2 269.7h0.8M424.3 293.3h0.8M436.1 298.8h0.8M451.6 276.4h0.8M457.0 298.7h0.8M453.9 297.3h0.8M433.8 310.2h0.8M456.2 279.8h0.8M429.5 283.6h0.8M432.8 280.3h0.8M457.5 277.6h0.8M458.2 314.8h0.8M448.1 305.9h0.8M440.2 271.5h0.8M433.1 271.7h0.8M456.1 295.6h0.8M426.9 276.6h0.8M437.4 306.1h0.8M459.1 291.8h0.8M455.9 294.3h0.8M452.5 295.8h0.8M457.0 262.8h0.8M435.4 297.2h0.8M429.7 274.4h0.8M435.8 293.1h0.8M433.6 266.6h0.8M431.4 282.1h0.8M461.1 314.6h0.8M444.1 274.6h0.8M440.6 268.7h0.8M427.2 287.8h0.8M448.0 301.4h0.8M458.3 296.7h0.8M444.8 304.7h0.8M446.4 273.9h0.8M443.4 300.5h0.8M433.8 292.3h0.8M462.7 279.1h0.8M451.9 293.2h0.8M428.8 295.3h0.8M443.9 306.2h0.8M451.3 276.6h0.8M432.2 300.4h0.8M436.9 295.5h0.8M442.3 310.4h0.8M446.0 304.2h0.8M442.1 303.9h0.8M456.7 315.4h0.8M445.0 303.2h0.8M443.9 302.8h0.8M443.2 302.6h0.8M434.9 277.7h0.8M458.4 280.5h0.8M439.9 299.7h0.8M439.8 298.7h0.8M428.7 297.2h0.8M430.4 297.0h0.8M435.5 302.6h0.8M456.0 315.8h0.8M442.2 273.0h0.8M455.8 298.2h0.8M442.2 303.3h0.8M452.4 275.4h0.8M444.8 268.8h0.8M446.8 273.5h0.8M454.5 291.4h0.8M432.9 291.4h0.8M438.6 307.9h0.8M457.2 292.7h0.8M450.7 277.2h0.8M453.3 311.0h0.8M447.6 277.5h0.8M431.7 288.6h0.8M433.3 308.2h0.8M431.0 286.7h0.8M435.4 301.6h0.8M463.9 277.3h0.8M452.0 295.3h0.8M461.2 276.7h0.8M440.7 273.8h0.8M450.9 274.1h0.8M451.3 297.1h0.8M432.2 295.0h0.8M446.8 274.6h0.8M457.1 303.0h0.8M433.0 294.7h0.8M457.4 297.5h0.8M436.2 274.0h0.8M444.0 319.8h0.8M452.7 277.8h0.8M446.5 304.8h0.8M457.8 290.3h0.8M445.2 273.2h0.8M456.9 294.2h0.8M441.4 275.2h0.8M454.4 291.3h0.8M439.7 276.9h0.8M451.5 292.9h0.8M453.2 291.6h0.8M433.4 276.5h0.8M430.1 307.5h0.8M430.8 287.2h0.8M452.5 320.6h0.8M449.1 303.2h0.8M437.0 273.7h0.8M458.9 296.2h0.8M456.2 291.7h0.8M442.2 269.1h0.8M458.2 275.1h0.8M431.8 294.2h0.8M455.7 300.2h0.8M458.2 308.0h0.8M449.8 272.4h0.8M437.0 297.0h0.8M454.7 276.9h0.8M446.0 267.6h0.8M432.1 290.4h0.8M455.4 280.5h0.8M448.6 299.3h0.8M435.5 309.5h0.8M441.6 274.7h0.8M457.2 296.4h0.8M456.4 296.9h0.8M438.2 268.0h0.8M464.8 270.4h0.8M433.7 280.1h0.8M447.1 308.4h0.8M454.7 301.1h0.8M438.7 272.5h0.8M452.5 270.6h0.8M432.2 290.6h0.8M435.2 291.8h0.8M432.6 287.3h0.8M446.6 270.3h0.8M455.1 296.5h0.8M447.2 276.3h0.8M437.9 297.9h0.8M438.5 299.1h0.8M457.3 277.1h0.8M427.6 284.5h0.8M436.7 280.9h0.8M443.5 273.2h0.8M432.9 292.1h0.8M455.3 268.6h0.8M454.2 292.5h0.8M434.7 282.2h0.8M430.7 290.3h0.8M436.0 276.3h0.8M459.7 290.2h0.8M461.8 292.9h0.8M431.3 296.8h0.8M426.9 295.3h0.8M453.6 269.1h0.8M427.5 283.6h0.8M439.4 298.8h0.8M452.8 299.4h0.8M427.5 286.8h0.8M459.1 295.4h0.8M434.6 279.2h0.8M436.4 298.2h0.8M453.2 298.3h0.8M436.5 277.6h0.8M443.8 276.3h0.8M452.3 307.4h0.8M460.0 294.9h0.8M442.7 300.4h0.8M426.3 288.3h0.8M457.8 278.7h0.8M423.5 301.9h0.8M459.5 293.5h0.8M457.1 279.9h0.8M456.3 306.2h0.8M457.4 300.2h0.8M438.1 302.6h0.8M452.3 290.0h0.8M457.6 298.0h0.8M453.1 276.7h0.8M444.0 270.5h0.8M429.0 293.0h0.8M447.4 310.0h0.8M431.3 305.0h0.8M457.3 298.7h0.8M431.0 294.1h0.8M456.4 272.1h0.8M440.7 271.0h0.8M439.1 305.9h0.8M436.9 304.5h0.8M429.0 291.4h0.8M430.3 275.3h0.8M454.5 281.0h0.8M453.6 295.3h0.8M450.7 296.3h0.8M433.7 283.3h0.8M451.6 275.0h0.8M442.9 276.3h0.8M456.5 271.2h0.8M449.4 277.6h0.8M455.0 298.4h0.8M449.1 273.5h0.8M443.7 301.1h0.8M432.3 287.4h0.8M439.7 276.7h0.8M444.1 299.4h0.8M448.3 276.8h0.8M430.2 293.5h0.8M440.0 300.0h0.8M447.3 301.9h0.8M434.0 274.7h0.8M449.2 299.9h0.8M453.8 306.0h0.8M448.1 301.9h0.8M431.0 298.8h0.8M424.0 290.9h0.8M453.7 255.0h0.8M436.0 268.0h0.8M447.0 301.9h0.8M456.5 295.3h0.8M456.8 294.8h0.8M437.2 274.9h0.8M439.2 299.7h0.8M457.1 305.3h0.8M458.3 290.6h0.8M452.5 274.4h0.8M429.7 305.4h0.8M446.6 273.0h0.8M455.5 289.1h0.8M450.0 295.2h0.8M456.8 291.5h0.8M454.9 300.2h0.8M441.3 276.0h0.8M430.7 302.4h0.8M446.1 299.3h0.8M441.8 308.6h0.8M443.0 275.1h0.8M447.2 313.1h0.8M451.9 299.3h0.8M425.5 283.5h0.8M458.8 294.6h0.8M450.1 307.3h0.8M430.3 302.6h0.8M458.0 290.4h0.8M453.4 280.4h0.8M446.0 301.4h0.8M453.7 299.2h0.8M449.3 299.1h0.8M450.5 295.8h0.8M427.4 288.6h0.8M450.3 297.5h0.8M443.3 299.8h0.8M462.3 275.3h0.8M452.4 278.2h0.8M433.6 294.4h0.8M434.8 293.2h0.8M444.0 274.1h0.8M443.3 268.9h0.8M448.4 276.8h0.8M422.7 300.5h0.8M449.3 268.3h0.8M451.7 298.3h0.8M429.2 286.4h0.8M453.0 288.6h0.8M449.7 302.7h0.8M437.9 277.0h0.8M432.3 287.6h0.8M434.0 282.5h0.8M458.4 280.5h0.8M442.3 312.7h0.8M426.9 291.7h0.8M432.2 288.2h0.8M437.1 270.9h0.8M454.0 296.2h0.8M461.0 293.8h0.8M449.1 273.0h0.8M449.6 278.5h0.8M431.1 268.4h0.8M457.2 294.3h0.8M431.1 308.3h0.8M451.0 273.9h0.8M453.6 279.4h0.8M448.4 308.3h0.8M435.0 285.1h0.8M437.9 309.1h0.8M431.9 288.4h0.8M454.0 279.2h0.8M432.5 287.6h0.8M456.5 275.3h0.8M427.3 280.1h0.8M434.8 305.1h0.8M441.5 300.2h0.8M442.3 272.8h0.8M450.2 277.7h0.8M437.8 297.6h0.8M431.7 303.9h0.8M439.6 298.4h0.8M457.4 279.3h0.8M438.2 298.1h0.8M427.9 271.1h0.8M450.3 303.3h0.8M426.8 303.5h0.8M440.5 301.4h0.8M426.4 292.2h0.8M440.5 277.0h0.8M454.4 301.8h0.8M435.1 281.9h0.8M451.2 275.7h0.8M454.3 298.4h0.8M443.1 276.0h0.8M422.8 287.6h0.8M454.3 280.1h0.8M452.0 290.0h0.8M458.9 290.8h0.8M432.3 289.9h0.8M454.5 274.7h0.8M453.1 294.7h0.8M452.1 265.5h0.8M450.0 298.8h0.8M460.3 291.0h0.8M432.8 288.9h0.8M451.3 293.7h0.8M435.7 281.8h0.8M451.4 280.1h0.8M435.5 279.7h0.8M456.6 290.9h0.8M451.7 278.3h0.8M453.1 290.9h0.8M425.9 276.1h0.8M447.6 269.5h0.8M453.1 264.3h0.8M438.8 303.7h0.8M462.1 280.0h0.8M452.0 258.6h0.8M432.6 295.8h0.8M460.5 289.4h0.8M455.1 277.6h0.8M459.6 296.1h0.8M441.8 305.3h0.8M457.7 293.9h0.8M451.1 303.3h0.8M450.3 300.5h0.8M452.8 297.4h0.8M446.1 300.7h0.8M464.0 271.2h0.8M434.0 289.8h0.8M430.9 287.8h0.8M450.1 273.2h0.8M434.1 296.6h0.8M431.9 280.4h0.8M454.2 268.6h0.8M440.8 299.3h0.8M444.7 321.6h0.8M447.4 300.1h0.8M452.4 299.9h0.8M439.1 270.6h0.8M452.0 290.0h0.8M436.5 278.0h0.8M453.0 289.4h0.8M451.1 273.0h0.8M437.9 306.5h0.8M441.4 272.6h0.8M435.0 292.2h0.8M438.8 309.6h0.8M431.0 267.9h0.8M441.5 275.6h0.8M450.1 273.4h0.8M451.5 295.0h0.8M456.9 290.5h0.8M459.1 271.8h0.8M431.0 294.9h0.8M435.6 283.3h0.8M440.4 312.1h0.8M449.9 272.8h0.8M449.4 308.7h0.8M428.2 294.3h0.8M452.5 289.9h0.8M443.3 263.5h0.8M443.2 301.1h0.8M422.9 287.5h0.8M450.8 295.8h0.8M450.9 309.7h0.8M447.8 298.9h0.8M452.5 272.7h0.8M437.9 310.1h0.8M432.7 284.7h0.8M432.7 281.9h0.8M450.5 279.6h0.8M439.4 302.3h0.8M441.5 266.7h0.8M451.1 294.9h0.8M446.9 271.6h0.8M454.8 280.4h0.8M455.0 297.7h0.8M452.1 266.1h0.8M455.3 289.7h0.8M434.1 298.3h0.8M437.7 296.5h0.8M452.3 274.3h0.8M446.4 306.0h0.8M445.8 300.4h0.8M454.9 294.1h0.8M437.6 261.7h0.8M446.6 276.1h0.8M431.9 272.8h0.8M445.3 309.8h0.8M433.8 288.3h0.8M433.4 277.9h0.8M433.0 300.4h0.8M436.4 298.4h0.8M449.8 274.2h0.8M432.9 284.6h0.8M458.3 280.5h0.8M439.5 305.8h0.8M452.5 291.8h0.8M455.2 297.0h0.8M433.6 290.3h0.8M443.3 315.5h0.8M452.4 276.7h0.8M443.4 303.6h0.8M434.1 283.1h0.8M431.7 282.1h0.8M448.5 297.6h0.8M454.2 276.0h0.8M430.5 292.9h0.8M453.9 290.7h0.8M433.1 268.5h0.8M456.5 278.4h0.8M437.6 308.1h0.8M425.6 279.1h0.8M455.8 275.5h0.8M452.2 289.8h0.8M454.1 292.0h0.8M461.1 276.2h0.8M435.1 313.9h0.8M458.5 271.3h0.8M441.4 301.7h0.8M443.0 319.4h0.8M448.6 300.1h0.8M452.2 272.0h0.8M430.6 293.4h0.8M434.7 282.5h0.8M456.4 296.5h0.8M436.6 297.5h0.8M437.1 304.7h0.8M456.3 295.1h0.8M436.1 294.6h0.8M451.1 294.8h0.8M454.9 293.4h0.8M459.4 280.1h0.8M455.4 323.0h0.8M433.3 265.1h0.8M452.0 291.6h0.8M426.4 292.4h0.8M456.0 304.9h0.8M436.3 279.0h0.8M429.9 281.2h0.8M460.3 277.2h0.8M427.5 285.4h0.8M437.2 278.1h0.8M447.1 300.7h0.8M454.5 276.7h0.8M485.4 263.0h0.8M463.4 252.0h0.8M461.9 280.2h0.8M456.7 305.8h0.8M474.0 255.1h0.8M484.3 266.8h0.8M476.3 266.0h0.8M458.1 278.8h0.8M491.4 269.4h0.8M459.0 272.7h0.8M448.8 272.3h0.8M499.2 280.9h0.8M479.4 260.1h0.8M501.7 274.4h0.8M467.0 272.3h0.8M465.6 264.1h0.8M487.7 269.0h0.8M492.1 261.6h0.8M460.1 270.8h0.8M477.4 262.3h0.8M498.6 262.8h0.8M491.4 271.5h0.8M497.1 273.5h0.8M489.3 262.6h0.8M474.6 264.1h0.8M454.2 279.9h0.8M474.5 265.0h0.8M457.5 276.6h0.8M457.3 260.3h0.8M464.2 270.7h0.8M493.1 264.9h0.8M508.5 278.0h0.8M457.0 300.3h0.8M461.7 278.5h0.8M496.5 276.2h0.8M486.8 261.7h0.8M453.9 272.4h0.8M466.1 273.7h0.8M494.1 312.1h0.8M491.8 266.3h0.8M495.6 248.6h0.8M509.3 260.1h0.8M460.3 290.1h0.8M496.1 273.8h0.8M465.7 274.7h0.8M476.8 263.0h0.8M466.8 266.8h0.8M493.7 273.4h0.8M483.4 266.6h0.8M458.9 272.2h0.8M469.9 261.8h0.8M457.7 291.0h0.8M492.7 268.7h0.8M459.4 267.6h0.8M482.2 261.1h0.8M458.0 275.8h0.8M488.7 260.5h0.8M476.0 250.9h0.8M459.7 275.1h0.8M506.1 260.8h0.8M455.3 271.7h0.8M464.5 265.6h0.8M473.1 266.5h0.8M497.6 269.3h0.8M500.2 272.3h0.8M474.2 266.1h0.8M456.8 275.3h0.8M475.9 267.7h0.8M499.8 277.4h0.8M488.0 268.2h0.8M461.6 278.1h0.8M480.3 262.3h0.8M456.0 293.2h0.8M490.0 268.1h0.8M450.6 255.9h0.8M496.5 274.5h0.8M463.3 273.7h0.8M449.3 267.2h0.8M461.1 264.7h0.8M487.8 260.9h0.8M496.2 293.7h0.8M503.4 259.5h0.8M501.6 286.1h0.8M502.5 285.0h0.8M471.2 267.5h0.8M468.4 262.7h0.8M511.2 293.1h0.8M492.2 262.7h0.8M507.3 284.8h0.8M459.6 290.2h0.8M470.6 268.6h0.8M494.3 267.7h0.8M462.4 270.8h0.8M465.0 273.0h0.8M458.7 278.3h0.8M504.2 270.9h0.8M509.8 288.1h0.8M455.2 293.2h0.8M492.7 264.1h0.8M500.8 279.0h0.8M505.9 264.0h0.8M461.3 279.6h0.8M503.5 262.0h0.8M460.4 290.5h0.8M468.2 269.8h0.8M457.8 273.3h0.8M507.3 277.5h0.8M486.2 265.0h0.8M480.9 266.2h0.8M477.6 260.0h0.8M500.7 273.1h0.8M479.9 266.7h0.8M500.7 288.2h0.8M459.6 280.6h0.8M495.5 272.1h0.8M461.8 270.0h0.8M506.5 284.6h0.8M501.1 291.7h0.8M452.8 277.2h0.8M466.0 271.0h0.8M502.1 265.2h0.8M459.9 291.1h0.8M465.2 273.7h0.8M482.4 260.8h0.8M458.7 280.2h0.8M471.8 266.2h0.8M490.4 266.0h0.8M460.6 290.0h0.8M492.2 261.1h0.8M481.8 254.5h0.8M456.0 272.8h0.8M486.5 265.5h0.8M471.7 253.8h0.8M496.1 268.4h0.8M475.9 260.6h0.8M502.8 293.2h0.8M499.3 296.3h0.8M481.9 316.6h0.8M459.2 319.6h0.8M501.7 310.4h0.8M456.1 305.8h0.8M503.6 295.0h0.8M504.2 303.2h0.8M461.4 321.3h0.8M493.3 312.8h0.8M447.5 311.1h0.8M501.3 309.0h0.8M493.4 321.6h0.8M500.2 302.3h0.8M448.7 313.6h0.8M511.5 312.5h0.8M476.3 317.5h0.8M453.5 297.7h0.8M446.8 313.1h0.8M463.7 321.5h0.8M497.2 299.2h0.8M491.9 314.4h0.8M508.1 310.3h0.8M457.2 301.4h0.8M457.1 303.9h0.8M499.2 318.9h0.8M507.4 310.0h0.8M500.4 300.4h0.8M470.5 317.5h0.8M488.1 316.7h0.8M499.5 301.8h0.8M454.3 300.5h0.8M498.4 297.4h0.8M455.2 294.5h0.8M456.4 312.8h0.8M495.5 314.7h0.8M449.9 309.5h0.8M505.3 303.1h0.8M504.9 304.5h0.8M449.3 305.8h0.8M511.7 299.1h0.8M502.0 310.3h0.8M503.6 306.5h0.8M496.1 316.7h0.8M462.7 313.8h0.8M502.9 298.1h0.8M454.0 315.1h0.8M486.1 315.3h0.8M458.6 297.0h0.8M457.5 295.0h0.8M469.8 316.8h0.8M496.9 312.7h0.8M460.0 319.9h0.8M451.2 319.8h0.8M444.6 305.4h0.8M470.8 320.1h0.8M470.6 320.2h0.8M478.7 320.8h0.8M476.5 324.3h0.8M451.3 316.1h0.8M507.0 300.6h0.8M476.2 317.4h0.8M509.0 290.0h0.8M451.8 238.9h0.8M509.6 253.6h0.8M433.4 238.9h0.8M483.1 258.1h0.8M428.8 279.2h0.8M462.5 255.4h0.8M447.6 307.0h0.8M469.5 257.4h0.8M497.8 293.5h0.8M501.7 306.8h0.8" stroke="#8a8a8a" stroke-width="0.8" fill="none"/>
<path d="M445.7 298.9 442.7 299.2 439.7 298.0 437.4 295.8 435.7 292.3 435.0 288.3 435.4 284.3 436.8 280.8 439.2 278.0 442.2 276.5 445.2 276.6 447.2 277.5 451.5 280.8 460.7 281.8 463.2 282.5 465.0 283.8 465.1 285.3 463.1 286.8 459.7 287.7 454.2 288.2 452.8 288.8 449.7 295.7 447.7 297.8 445.7 298.9Z M445.7 297.4 443.2 297.8 440.3 296.8 438.2 294.7 436.7 291.8 436.1 288.3 436.5 284.8 437.7 281.7 439.7 279.3 442.2 278.0 444.7 278.0 446.2 278.5 451.2 281.6 459.2 282.4 462.5 283.8 462.8 284.3 462.6 285.3 461.1 286.3 458.2 287.0 453.7 287.4 451.9 288.3 451.1 289.3 449.2 294.3 447.7 296.1 445.7 297.4Z M444.7 294.8 442.7 294.9 441.2 294.3 439.7 292.8 438.7 290.9 438.2 288.3 438.4 285.8 439.0 283.8 440.2 282.1 442.2 280.8 444.7 280.6 455.3 284.3 455.7 284.8 452.7 286.0 450.2 287.8 449.0 289.3 447.2 293.1 444.7 294.8Z" fill="none" stroke="#555" stroke-width="0.45"/>
<clipPath id="c13"><rect x="421.2" y="234.3" width="92.0" height="58.0"/></clipPath>
<path d="M480.7 316.8 476.7 316.6 473.2 315.4 469.7 313.2 466.7 310.3 464.3 306.8 462.5 302.8 461.1 297.8 460.6 293.3 460.8 288.3 461.9 283.3 463.4 279.3 465.7 275.3 468.7 271.8 471.7 269.6 475.2 268.0 479.2 267.4 482.7 267.7 486.7 269.1 490.7 271.6 494.7 274.9 496.9 277.3 498.8 280.3 499.8 283.3 500.3 286.8 499.8 291.8 497.9 299.3 496.1 304.3 493.9 308.3 491.2 311.7 488.2 314.2 484.7 315.9 480.7 316.8Z M481.7 313.9 478.2 314.0 475.2 313.3 472.2 311.8 469.1 309.3 466.8 306.3 464.9 302.8 463.6 298.8 462.8 294.3 462.9 289.8 463.5 285.8 464.9 281.3 466.8 277.8 469.2 274.8 472.2 272.4 475.2 270.9 478.7 270.2 482.2 270.4 485.2 271.4 489.2 273.4 493.7 276.4 495.7 278.3 497.4 280.8 498.4 283.3 498.9 286.3 498.7 289.3 497.9 292.8 494.9 301.3 492.7 305.8 490.5 308.8 487.7 311.3 484.7 313.0 481.7 313.9Z M481.2 311.9 478.2 311.9 475.2 311.1 472.2 309.5 469.7 307.2 467.6 304.3 465.9 300.8 464.9 297.3 464.4 293.3 464.5 289.3 465.3 285.3 466.6 281.8 468.3 278.8 470.7 276.0 473.2 274.1 476.2 272.7 479.2 272.2 481.7 272.4 484.7 273.2 489.7 275.5 493.2 277.6 495.0 279.3 496.4 281.3 497.5 283.8 497.8 286.3 497.7 289.3 496.9 292.3 493.2 301.3 491.3 304.8 489.2 307.5 486.7 309.7 484.2 311.0 481.2 311.9Z M482.2 309.9 479.2 310.3 476.7 309.9 473.7 308.6 471.4 306.8 469.3 304.3 467.6 301.3 466.4 297.8 465.8 294.3 465.7 290.3 466.3 286.8 467.4 283.3 469.0 280.3 471.0 277.8 473.2 276.0 475.7 274.7 478.7 274.0 483.7 274.6 492.2 278.2 495.4 281.3 496.4 283.3 497.0 285.8 496.9 288.8 496.1 291.8 490.5 303.3 488.7 305.8 486.7 307.7 484.7 309.0 482.2 309.9Z M482.2 308.4 479.7 308.7 477.2 308.4 474.7 307.5 472.2 305.7 470.2 303.4 468.7 300.8 467.6 297.8 467.0 294.3 467.3 287.8 468.3 284.3 469.7 281.6 471.5 279.3 473.7 277.4 476.2 276.1 478.7 275.5 483.2 275.9 491.7 278.9 493.6 280.3 494.8 281.8 495.8 283.8 496.3 285.8 496.2 288.3 495.4 291.3 489.7 302.3 486.2 306.3 482.2 308.4Z M480.2 307.3 477.7 307.1 475.7 306.5 473.7 305.3 471.7 303.3 470.0 300.8 468.9 298.3 467.9 292.3 468.8 286.3 471.4 281.3 473.2 279.4 475.2 278.0 477.2 277.2 479.7 276.8 482.2 277.1 488.2 278.5 491.7 279.8 493.2 281.0 494.6 282.8 495.4 284.8 495.6 286.8 495.3 289.3 494.4 291.8 487.9 302.8 484.2 306.1 480.2 307.3Z M481.2 305.8 477.2 305.6 475.2 304.8 473.2 303.2 471.6 301.3 470.3 298.8 469.0 293.3 469.5 287.8 471.7 282.8 473.2 281.0 475.2 279.5 479.2 278.2 487.7 279.3 491.2 280.4 493.9 282.8 495.0 286.3 494.9 288.3 494.1 290.8 487.7 301.1 484.7 304.3 481.2 305.8Z M481.7 304.4 479.2 304.7 476.7 304.1 474.2 302.5 472.2 300.2 470.8 297.3 470.0 293.8 470.1 290.3 470.9 286.8 472.0 284.3 473.6 282.3 475.4 280.8 477.6 279.8 481.2 279.5 490.2 280.8 492.6 282.3 493.9 284.3 494.4 286.8 494.0 289.3 492.7 291.8 486.2 301.3 484.2 303.1 481.7 304.4Z M480.2 303.3 477.7 303.1 475.7 302.1 473.7 300.3 472.2 297.9 471.3 295.3 471.0 292.3 471.2 289.3 472.2 286.3 474.7 282.8 478.2 281.0 480.7 280.7 487.7 281.1 490.7 281.8 492.6 283.3 493.6 285.3 493.8 287.3 493.1 289.8 485.2 300.7 482.7 302.6 480.2 303.3Z M480.7 301.9 478.7 301.9 476.7 301.2 474.7 299.6 473.2 297.4 472.3 294.8 472.0 292.3 472.3 289.3 473.2 286.8 475.5 283.8 478.7 282.2 487.7 282.0 490.7 282.7 492.2 283.9 493.0 285.8 493.0 287.8 492.3 289.8 484.7 299.5 482.7 301.1 480.7 301.9Z M480.7 300.4 478.7 300.4 476.7 299.6 475.2 298.2 474.0 296.3 473.3 293.8 473.2 291.3 473.7 288.8 474.6 286.8 476.7 284.6 479.2 283.5 488.2 282.9 490.7 283.6 491.9 284.8 492.4 286.3 492.3 287.8 491.7 289.4 487.1 294.3 483.7 298.7 480.7 300.4Z M481.2 298.5 479.2 298.8 477.7 298.3 476.4 297.3 475.3 295.8 474.6 293.8 474.5 291.8 474.8 289.8 475.7 287.8 477.2 286.1 479.2 285.2 487.7 283.9 490.2 284.4 491.1 285.3 491.6 286.8 490.7 289.3 486.3 293.3 483.2 297.1 481.2 298.5Z M480.7 296.4 479.2 296.5 478.2 296.1 476.6 294.3 476.3 291.3 477.3 288.8 479.7 287.2 483.7 286.7 487.7 285.2 489.7 285.6 490.4 286.8 489.7 288.7 485.7 291.4 482.3 295.3 480.7 296.4Z" fill="none" stroke="#555" stroke-width="0.45" clip-path="url(#c13)"/>
<clipPath id="c14"><rect x="421.2" y="291.3" width="92.0" height="35.0"/></clipPath>
<path d="M480.7 316.3 474.2 316.4 468.2 314.9 463.2 311.9 459.7 307.8 458.3 303.3 458.3 300.8 458.8 298.3 460.0 295.8 461.6 293.8 465.7 290.5 469.2 288.9 473.2 287.9 477.2 287.6 481.7 288.0 485.7 289.2 489.2 290.9 492.1 293.3 494.4 296.3 495.6 299.3 495.9 302.8 495.3 305.8 493.8 308.8 491.7 311.3 488.7 313.5 485.2 315.2 480.7 316.3Z M480.2 315.3 474.2 315.4 468.7 313.9 464.2 311.2 460.9 307.3 460.1 305.3 459.6 302.8 460.2 298.3 462.8 294.3 467.2 290.9 470.7 289.5 474.2 288.8 477.7 288.6 481.7 289.1 485.2 290.1 488.7 292.0 491.4 294.3 493.2 296.8 494.4 299.8 494.6 302.8 493.9 305.8 492.6 308.3 490.2 311.0 487.2 313.1 483.7 314.6 480.2 315.3Z M479.2 314.3 473.7 314.1 468.7 312.6 464.6 309.8 462.0 306.3 461.3 304.3 461.0 301.8 462.0 297.8 464.6 294.3 468.7 291.5 471.7 290.4 475.2 289.8 478.7 289.8 482.2 290.4 485.2 291.4 488.2 293.2 490.5 295.3 492.1 297.8 493.0 300.3 493.1 303.3 492.4 305.8 490.9 308.3 488.7 310.6 485.7 312.5 482.7 313.6 479.2 314.3Z M480.7 312.8 475.7 313.1 471.2 312.2 467.2 310.2 464.3 307.3 462.8 303.8 462.8 300.3 464.4 296.8 467.2 294.0 469.7 292.5 472.7 291.5 475.7 291.0 479.2 291.1 482.2 291.7 485.2 292.9 487.7 294.6 489.8 296.8 490.9 298.8 491.5 301.3 491.3 303.8 490.4 306.3 489.0 308.3 486.7 310.3 483.7 311.9 480.7 312.8Z M480.7 311.4 476.7 311.8 472.7 311.2 469.2 309.6 466.2 307.0 464.7 303.8 464.6 300.8 465.8 297.8 468.1 295.3 470.2 294.0 472.7 293.0 475.7 292.4 478.7 292.5 481.7 293.1 484.2 294.1 486.2 295.4 488.0 297.3 489.2 299.3 489.6 301.3 489.5 303.8 488.7 305.8 487.2 307.8 485.5 309.3 480.7 311.4Z M479.7 309.9 476.2 310.1 472.7 309.4 469.7 307.8 467.8 305.8 466.7 303.3 466.7 300.8 467.8 298.3 469.8 296.3 473.7 294.5 478.7 294.1 483.2 295.6 486.3 298.3 487.1 299.8 487.5 301.8 487.3 303.8 486.7 305.3 485.5 306.8 483.7 308.3 479.7 309.9Z M479.2 307.8 476.7 308.0 474.2 307.6 471.7 306.4 470.2 304.8 469.5 303.3 469.4 301.3 470.2 299.3 471.7 297.8 474.7 296.4 478.2 296.2 481.2 297.0 483.7 299.0 484.8 301.8 484.3 304.3 482.2 306.5 479.2 307.8Z" fill="none" stroke="#666" stroke-width="0.45" clip-path="url(#c14)"/>
<radialGradient id="g15"><stop offset="0" stop-color="#aaa" stop-opacity="1"/><stop offset="0.07" stop-color="#2a2a2a" stop-opacity="1"/><stop offset="0.28" stop-color="#262626" stop-opacity="1"/><stop offset="0.45" stop-color="#4a4a4a" stop-opacity="1"/><stop offset="0.65" stop-color="#7a7a7a" stop-opacity="0.9"/><stop offset="0.85" stop-color="#a0a0a0" stop-opacity="0.7"/><stop offset="1" stop-color="#c8c8c8" stop-opacity="0"/></radialGradient>
<ellipse cx="478.4" cy="301.4" rx="16" ry="14" fill="url(#g15)" transform="rotate(0 478.4 301.4)"/>
<ellipse cx="443.6" cy="288.0" rx="5.4" ry="7.8" fill="#fff"/>
<ellipse cx="452.2" cy="284.8" rx="8" ry="2.0" fill="#fff"/>
<ellipse cx="480.2" cy="281.3" rx="1.2" ry="3" fill="#fff"/>
<rect x="421.20" y="234.30" width="91.70" height="91.30" fill="none" stroke="#444" stroke-width="1.2"/>
<line x1="463.60" y1="234.30" x2="463.60" y2="325.60" stroke="#555" stroke-width="1.1"/>
<line x1="421.20" y1="292.10" x2="512.90" y2="292.10" stroke="#555" stroke-width="1.1"/>
<text x="425.50" y="244.20" font-size="8.4" text-anchor="start" fill="#2a2a2a" font-weight="normal" >2,52</text>
<text x="508.60" y="244.20" font-size="8.4" text-anchor="end" fill="#2a2a2a" font-weight="normal" >11,3</text>
<text x="425.50" y="319.80" font-size="8.4" text-anchor="start" fill="#2a2a2a" font-weight="normal" >2,16</text>
<text x="508.60" y="319.80" font-size="8.4" text-anchor="end" fill="#2a2a2a" font-weight="normal" >84,0</text>
<line x1="18.70" y1="291.00" x2="18.70" y2="251.00" stroke="#000" stroke-width="1.3"/>
<path d="M18.7,244.8 L22.1,252.8 L15.3,252.8Z" fill="#000"/>
<text transform="translate(22.5,310.0) rotate(-90)" font-size="10.7" text-anchor="middle" fill="#111">CD62L</text>
<text x="28.60" y="339.70" font-size="10.6" text-anchor="start" fill="#111" font-weight="normal" >CD44</text>
<line x1="62.00" y1="336.40" x2="210.00" y2="336.40" stroke="#000" stroke-width="1.3"/>
<path d="M217.7,336.4 L208.5,332.7 L208.5,340.1Z" fill="#000"/>
<text x="7.60" y="367.30" font-size="12.5" text-anchor="start" fill="#000" font-weight="bold" style="stroke:#000;stroke-width:0.45px">D</text>
<line x1="57.90" y1="375.50" x2="57.90" y2="488.00" stroke="#111" stroke-width="1.6"/>
<line x1="57.10" y1="487.40" x2="214.20" y2="487.40" stroke="#111" stroke-width="1.6"/>
<line x1="54.30" y1="487.40" x2="57.90" y2="487.40" stroke="#111" stroke-width="1.2"/>
<text x="51.30" y="490.40" font-size="8.6" text-anchor="end" fill="#333" font-weight="normal" >0</text>
<line x1="54.30" y1="469.32" x2="57.90" y2="469.32" stroke="#111" stroke-width="1.2"/>
<text x="51.30" y="472.32" font-size="8.6" text-anchor="end" fill="#333" font-weight="normal" >20</text>
<line x1="54.30" y1="451.24" x2="57.90" y2="451.24" stroke="#111" stroke-width="1.2"/>
<text x="51.30" y="454.24" font-size="8.6" text-anchor="end" fill="#333" font-weight="normal" >40</text>
<line x1="54.30" y1="433.16" x2="57.90" y2="433.16" stroke="#111" stroke-width="1.2"/>
<text x="51.30" y="436.16" font-size="8.6" text-anchor="end" fill="#333" font-weight="normal" >60</text>
<line x1="54.30" y1="415.08" x2="57.90" y2="415.08" stroke="#111" stroke-width="1.2"/>
<text x="51.30" y="418.08" font-size="8.6" text-anchor="end" fill="#333" font-weight="normal" >80</text>
<line x1="54.30" y1="397.00" x2="57.90" y2="397.00" stroke="#111" stroke-width="1.2"/>
<text x="51.30" y="400.00" font-size="8.6" text-anchor="end" fill="#333" font-weight="normal" >100</text>
<line x1="54.30" y1="378.92" x2="57.90" y2="378.92" stroke="#111" stroke-width="1.2"/>
<text x="51.30" y="381.92" font-size="8.6" text-anchor="end" fill="#333" font-weight="normal" >120</text>
<line x1="73.40" y1="396.70" x2="73.40" y2="398.20" stroke="#8a0020" stroke-width="1.2"/>
<line x1="68.20" y1="396.70" x2="78.60" y2="396.70" stroke="#8a0020" stroke-width="1.3"/>
<rect x="62.50" y="398.20" width="21.80" height="89.20" fill="#a8002a" stroke="none" stroke-width="0"/>
<rect x="62.50" y="475.80" width="21.80" height="1.50" fill="#2a4a88" stroke="none" stroke-width="0"/>
<rect x="62.50" y="477.30" width="21.80" height="10.10" fill="#6cb04a" stroke="none" stroke-width="0"/>
<line x1="104.70" y1="395.00" x2="104.70" y2="400.00" stroke="#8a0020" stroke-width="1.2"/>
<line x1="99.50" y1="395.00" x2="109.90" y2="395.00" stroke="#8a0020" stroke-width="1.3"/>
<rect x="93.80" y="400.00" width="21.80" height="87.40" fill="#a8002a" stroke="none" stroke-width="0"/>
<rect x="93.80" y="475.30" width="21.80" height="2.00" fill="#2a4a88" stroke="none" stroke-width="0"/>
<rect x="93.80" y="477.30" width="21.80" height="10.10" fill="#6cb04a" stroke="none" stroke-width="0"/>
<line x1="104.70" y1="474.70" x2="104.70" y2="475.30" stroke="#d6a47c" stroke-width="1.0"/>
<line x1="99.70" y1="474.70" x2="109.70" y2="474.70" stroke="#d6a47c" stroke-width="1.2"/>
<line x1="136.00" y1="388.80" x2="136.00" y2="402.30" stroke="#8a0020" stroke-width="1.2"/>
<line x1="130.80" y1="388.80" x2="141.20" y2="388.80" stroke="#8a0020" stroke-width="1.3"/>
<rect x="125.10" y="402.30" width="21.80" height="85.10" fill="#a8002a" stroke="none" stroke-width="0"/>
<rect x="125.10" y="471.80" width="21.80" height="3.20" fill="#2a4a88" stroke="none" stroke-width="0"/>
<rect x="125.10" y="475.00" width="21.80" height="12.40" fill="#6cb04a" stroke="none" stroke-width="0"/>
<line x1="136.00" y1="467.30" x2="136.00" y2="471.80" stroke="#d6a47c" stroke-width="1.0"/>
<line x1="131.00" y1="467.30" x2="141.00" y2="467.30" stroke="#d6a47c" stroke-width="1.2"/>
<line x1="167.30" y1="398.50" x2="167.30" y2="401.30" stroke="#8a0020" stroke-width="1.2"/>
<line x1="162.10" y1="398.50" x2="172.50" y2="398.50" stroke="#8a0020" stroke-width="1.3"/>
<rect x="156.40" y="401.30" width="21.80" height="86.10" fill="#a8002a" stroke="none" stroke-width="0"/>
<rect x="156.40" y="477.40" width="21.80" height="1.80" fill="#2a4a88" stroke="none" stroke-width="0"/>
<rect x="156.40" y="479.20" width="21.80" height="8.20" fill="#6cb04a" stroke="none" stroke-width="0"/>
<line x1="167.30" y1="477.70" x2="167.30" y2="477.40" stroke="#d6a47c" stroke-width="1.0"/>
<line x1="162.30" y1="477.70" x2="172.30" y2="477.70" stroke="#d6a47c" stroke-width="1.2"/>
<line x1="198.60" y1="394.00" x2="198.60" y2="404.20" stroke="#8a0020" stroke-width="1.2"/>
<line x1="193.40" y1="394.00" x2="203.80" y2="394.00" stroke="#8a0020" stroke-width="1.3"/>
<rect x="187.70" y="404.20" width="21.80" height="83.20" fill="#a8002a" stroke="none" stroke-width="0"/>
<rect x="187.70" y="475.50" width="21.80" height="2.20" fill="#2a4a88" stroke="none" stroke-width="0"/>
<rect x="187.70" y="477.70" width="21.80" height="9.70" fill="#6cb04a" stroke="none" stroke-width="0"/>
<line x1="198.60" y1="474.30" x2="198.60" y2="475.50" stroke="#d6a47c" stroke-width="1.0"/>
<line x1="193.60" y1="474.30" x2="203.60" y2="474.30" stroke="#d6a47c" stroke-width="1.2"/>
<line x1="73.45" y1="487.40" x2="73.45" y2="490.80" stroke="#111" stroke-width="1.2"/>
<text x="73.45" y="501.50" font-size="8.6" text-anchor="middle" fill="#222" font-weight="normal" >B6</text>
<line x1="104.75" y1="487.40" x2="104.75" y2="490.80" stroke="#111" stroke-width="1.2"/>
<text x="104.75" y="501.50" font-size="8.6" text-anchor="middle" fill="#222" font-weight="normal" >Jinx</text>
<line x1="136.05" y1="487.40" x2="136.05" y2="490.80" stroke="#111" stroke-width="1.2"/>
<text x="136.05" y="501.50" font-size="8.6" text-anchor="middle" fill="#222" font-weight="normal" >J/GFP</text>
<line x1="167.35" y1="487.40" x2="167.35" y2="490.80" stroke="#111" stroke-width="1.2"/>
<text x="167.35" y="501.50" font-size="8.6" text-anchor="middle" fill="#222" font-weight="normal" >J/B6</text>
<line x1="198.65" y1="487.40" x2="198.65" y2="490.80" stroke="#111" stroke-width="1.2"/>
<text x="198.65" y="501.50" font-size="8.6" text-anchor="middle" fill="#222" font-weight="normal" >J/Munc</text>
<text transform="translate(30.1,431.3) rotate(-90)" font-size="9.6" text-anchor="middle" fill="#222" textLength="87" lengthAdjust="spacingAndGlyphs">% of total CD3<tspan dy="-3.2" font-size="6">+</tspan><tspan dy="3.2"> CD8</tspan><tspan dy="-3.2" font-size="6">+</tspan><tspan dy="3.2"> cells</tspan></text>
<rect x="222.80" y="398.90" width="11.60" height="11.00" fill="#2a4a88" stroke="#1a1a2a" stroke-width="0.5"/>
<rect x="222.80" y="409.90" width="11.60" height="11.90" fill="#b3002d" stroke="#3a0010" stroke-width="0.5"/>
<rect x="222.80" y="421.80" width="11.60" height="11.30" fill="#6cb04a" stroke="#254a15" stroke-width="0.5"/>
<text x="237.6" y="406.4" font-size="7.6" fill="#222">T<tspan dy="2.7" font-size="5.7">N</tspan></text>
<text x="237.6" y="418.0" font-size="7.6" fill="#222">T<tspan dy="2.7" font-size="5.7">EM</tspan></text>
<text x="237.6" y="429.6" font-size="7.6" fill="#222">T<tspan dy="2.7" font-size="5.7">CM</tspan></text>
<rect x="0" y="0" width="1.1" height="518" fill="#000"/><rect x="0" y="0" width="520" height="1.15" fill="#000"/><rect x="518.8" y="0" width="1.2" height="518" fill="#000"/><rect x="0" y="516.5" width="520" height="1.5" fill="#000"/>
</svg>
</body></html>
